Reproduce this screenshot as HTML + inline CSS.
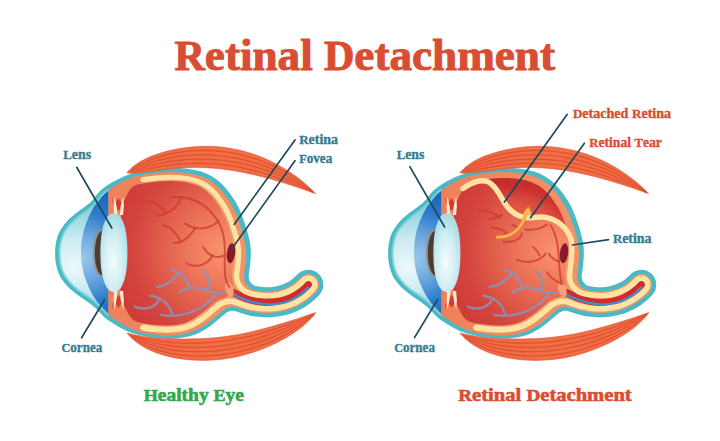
<!DOCTYPE html>
<html><head><meta charset="utf-8"><title>Retinal Detachment</title>
<style>html,body{margin:0;padding:0;background:#fff}body{width:720px;height:441px;overflow:hidden;font-family:"Liberation Serif",serif}svg{display:block;position:absolute;left:0;top:0}</style>
</head><body>
<svg width="720" height="441" viewBox="0 0 720 441">
<defs>
<radialGradient id="gint" gradientUnits="userSpaceOnUse" cx="222" cy="250" r="108">
<stop offset="0" stop-color="#fa936f"/><stop offset="0.25" stop-color="#f07d5f"/><stop offset="0.59" stop-color="#e05c4a"/><stop offset="0.73" stop-color="#d84d42"/><stop offset="0.85" stop-color="#d3433c"/><stop offset="1" stop-color="#cf3d39"/></radialGradient>
<radialGradient id="gsub" gradientUnits="userSpaceOnUse" cx="180" cy="256" r="80">
<stop offset="0.45" stop-color="#e4664e"/><stop offset="0.7" stop-color="#db4b3f"/><stop offset="0.86" stop-color="#cb3030"/><stop offset="1" stop-color="#c3272a"/></radialGradient>
<linearGradient id="gwall" gradientUnits="userSpaceOnUse" x1="108" y1="0" x2="255" y2="0">
<stop offset="0" stop-color="#ee7f5a"/><stop offset="0.2" stop-color="#f0845c"/><stop offset="1" stop-color="#f39468"/></linearGradient>
<radialGradient id="gaq" gradientUnits="userSpaceOnUse" cx="76" cy="262" r="60" fx="74" fy="268">
<stop offset="0" stop-color="#eef9fb"/><stop offset="0.45" stop-color="#c9ebf1"/><stop offset="1" stop-color="#7fcdd8"/></radialGradient>
<radialGradient id="giris" gradientUnits="userSpaceOnUse" cx="83" cy="258" r="72">
<stop offset="0" stop-color="#9ac6ea"/><stop offset="0.3" stop-color="#6faade"/><stop offset="0.62" stop-color="#2f7fcd"/><stop offset="1" stop-color="#1460b4"/></radialGradient>
<radialGradient id="glens" gradientUnits="userSpaceOnUse" cx="113" cy="262" r="46" gradientTransform="translate(113 262) scale(0.36 1) translate(-113 -262)">
<stop offset="0" stop-color="#f4fbfc"/><stop offset="0.55" stop-color="#d3eff3"/><stop offset="1" stop-color="#a9dde6"/></radialGradient>
<linearGradient id="gtm" gradientUnits="userSpaceOnUse" x1="120" y1="180" x2="316" y2="190">
<stop offset="0" stop-color="#ea5c3a"/><stop offset="0.5" stop-color="#f06a40"/><stop offset="1" stop-color="#ec613c"/></linearGradient>
<linearGradient id="gbm" gradientUnits="userSpaceOnUse" x1="110" y1="320" x2="316" y2="318">
<stop offset="0" stop-color="#ea5c3a"/><stop offset="0.5" stop-color="#f06a40"/><stop offset="1" stop-color="#ec613c"/></linearGradient>
</defs>
<rect width="720" height="441" fill="#fff"/>
<g font-family="'Liberation Serif', serif" font-weight="bold">
<text x="174.5" y="70" xml:space="preserve" font-size="41.3" fill="#d94e33" stroke="#d94e33" stroke-width="1.0" stroke-linejoin="round" textLength="380.5" lengthAdjust="spacingAndGlyphs"><tspan font-size="41.30">R</tspan><tspan font-size="44.40">etinal </tspan><tspan font-size="41.30">D</tspan><tspan font-size="44.40">etachment</tspan></text>
<g id="eyeL"><path d="M97.7,193.4 L93.2,199.4 L89.7,202.9 L85.9,206.0 L75.3,213.7 L69.0,219.1 L64.6,224.0 L60.8,229.4 L58.9,233.0 L57.4,236.8 L56.4,240.7 L55.5,245.5 L55.1,250.4 L55.1,255.4 L55.4,260.4 L56.2,265.3 L57.9,271.6 L60.6,277.4 L64.3,282.8 L69.3,288.2 L76.3,294.1 L87.8,301.9 L92.2,305.2 L95.9,308.6 L103.3,316.3 L107.1,319.6 L118.1,326.6 L126.2,330.8 L132.3,333.1 L139.3,335.1 L146.6,336.5 L154.7,337.6 L163.7,338.3 L171.9,338.5 L179.3,338.1 L185.8,337.1 L190.7,335.9 L195.4,334.4 L199.8,332.4 L204.1,330.1 L208.9,327.0 L213.5,323.6 L226.6,312.6 L228.3,311.7 L230.2,311.0 L232.1,310.8 L234.7,311.1 L243.9,314.1 L251.6,315.9 L258.2,316.8 L264.1,317.2 L271.1,317.2 L277.9,316.5 L284.7,315.2 L291.2,313.4 L296.1,311.5 L300.7,309.3 L305.2,306.8 L309.3,304.0 L313.6,300.6 L317.4,296.9 L320.2,293.8 L322.1,290.7 L323.0,287.6 L323.3,284.0 L322.6,280.2 L321.3,277.2 L319.2,274.3 L316.1,271.9 L313.2,270.5 L309.7,269.7 L305.8,269.9 L301.7,271.2 L298.7,273.2 L293.7,278.0 L289.2,281.4 L283.8,284.1 L277.8,286.0 L274.2,286.7 L270.1,287.2 L266.3,287.3 L262.0,287.1 L255.5,286.0 L253.1,284.9 L251.6,283.6 L250.3,282.1 L249.4,280.4 L248.8,278.5 L248.6,276.6 L250.0,265.9 L250.8,256.1 L250.8,249.5 L250.2,243.8 L249.1,238.2 L247.2,231.1 L243.9,220.9 L241.1,213.2 L238.1,206.5 L234.9,200.8 L229.8,193.3 L225.1,187.5 L221.1,183.2 L216.7,179.5 L212.1,176.4 L207.0,173.8 L201.0,171.5 L194.5,169.9 L187.2,168.7 L179.7,168.1 L171.5,168.0 L162.6,168.4 L152.8,169.3 L143.9,170.7 L137.5,172.0 L131.1,173.8 L125.0,176.0 L119.0,178.7 L111.7,182.5 L105.5,186.4 L101.0,189.9 L97.7,193.4Z" fill="#49b9c5"/>
<path d="M100.2,195.7 L96.2,201.1 L93.1,204.4 L89.2,207.8 L78.6,215.4 L73.7,219.4 L68.8,224.3 L64.9,229.2 L63.0,232.4 L61.7,235.0 L60.7,237.9 L59.7,241.5 L58.6,249.0 L58.6,257.7 L59.5,264.6 L61.4,271.1 L63.9,276.4 L67.9,281.8 L71.6,285.8 L76.4,289.9 L80.9,293.2 L90.5,299.6 L95.0,303.2 L98.3,306.2 L105.2,313.4 L108.6,316.5 L108.6,188.4 L103.8,192.0 L100.2,195.7Z" fill="#7fd0d9"/>
<path d="M101.7,196.8 L97.6,202.3 L94.4,205.8 L90.3,209.3 L80.4,216.5 L75.5,220.4 L70.7,225.0 L66.9,229.6 L63.8,235.1 L61.7,241.2 L60.6,248.4 L60.4,256.8 L61.2,263.5 L62.9,269.8 L65.2,274.8 L68.9,280.0 L72.9,284.4 L77.6,288.4 L82.0,291.6 L91.6,298.1 L96.3,301.7 L108.6,314.0 L108.6,190.7 L104.5,193.9 L101.7,196.8Z" fill="url(#gaq)"/>
<path d="M101.6,197.0 L97.7,202.3 L95.0,205.2 L93.1,208.3 L89.2,215.7 L86.0,223.4 L83.5,231.3 L81.9,239.5 L81.1,247.8 L81.1,256.2 L81.9,264.5 L83.5,272.7 L86.0,280.6 L89.2,288.3 L93.1,295.7 L97.7,302.6 L98.8,304.0 L108.6,314.0 L108.6,190.7 L104.5,193.9 L101.6,197.0Z" fill="url(#giris)"/>
<ellipse cx="101.0" cy="253" rx="8.0" ry="23.2" fill="#9a9088"/>
<ellipse cx="102.4" cy="253" rx="7.6" ry="22.2" fill="#4b3c34"/>
<path d="M108.3,314.5 L111.8,317.3 L122.2,324.2 L129.1,327.9 L132.5,329.3 L136.0,330.4 L136.0,331.4 L136.6,331.6 L147.5,333.8 L160.2,335.1 L171.4,335.5 L176.9,335.1 L181.5,334.6 L186.9,333.5 L191.4,332.1 L195.7,330.4 L200.4,328.0 L205.6,324.7 L210.7,320.9 L217.0,315.7 L224.5,309.2 L226.9,307.8 L229.6,306.9 L232.4,306.6 L235.2,306.8 L244.3,309.6 L250.6,311.2 L257.9,312.4 L265.1,312.9 L271.7,312.7 L279.0,311.9 L285.5,310.5 L291.7,308.5 L297.7,305.9 L302.8,303.1 L308.2,299.3 L312.7,295.4 L316.3,291.7 L317.9,289.3 L318.8,286.4 L318.8,283.0 L318.3,280.9 L317.5,279.3 L316.2,277.6 L315.1,276.5 L313.4,275.3 L311.4,274.5 L309.6,274.1 L307.5,274.1 L304.8,274.7 L302.4,275.9 L295.8,282.1 L290.4,285.8 L284.9,288.4 L279.3,290.2 L275.5,291.0 L271.6,291.5 L263.6,291.6 L258.8,291.1 L254.6,290.3 L252.8,289.7 L250.4,288.4 L248.2,286.7 L245.9,283.8 L244.7,281.2 L244.1,278.6 L244.0,274.8 L245.0,267.7 L245.8,259.7 L246.0,250.9 L245.7,247.1 L245.0,242.5 L242.3,231.9 L237.4,217.3 L235.3,212.2 L233.3,208.0 L230.6,203.3 L227.1,197.9 L223.8,193.4 L220.2,189.2 L214.5,183.8 L211.5,181.5 L208.3,179.6 L205.0,177.9 L200.9,176.2 L192.5,173.9 L183.2,172.5 L171.9,172.1 L160.0,172.6 L146.5,174.2 L136.1,176.1 L132.5,177.2 L129.1,178.5 L125.6,180.0 L118.7,183.6 L111.8,187.8 L108.3,190.2 L108.3,314.5Z" fill="url(#gwall)"/>
<path d="M141.6,324.3 L153.5,326.0 L161.1,326.6 L167.0,326.8 L176.3,326.2 L180.9,325.5 L184.9,324.5 L191.5,321.9 L198.4,317.8 L205.5,312.5 L216.2,303.3 L218.5,301.7 L220.8,300.4 L223.4,299.4 L227.4,298.6 L230.1,298.4 L234.1,298.9 L247.8,303.4 L253.5,304.7 L259.4,305.6 L265.3,306.0 L271.1,305.9 L277.0,305.2 L281.9,304.3 L287.6,302.7 L292.3,300.8 L296.9,298.5 L301.2,295.9 L306.1,292.1 L311.0,287.3 L311.9,285.8 L311.9,283.9 L311.4,282.5 L310.1,281.4 L308.7,281.0 L307.1,281.2 L305.8,281.9 L302.5,285.4 L299.3,288.1 L296.0,290.4 L292.5,292.5 L288.6,294.4 L284.5,295.9 L280.2,297.1 L275.8,297.9 L267.7,298.6 L259.4,298.1 L254.3,297.4 L249.7,296.3 L246.9,295.3 L244.4,294.1 L241.1,291.7 L238.3,288.8 L236.7,286.5 L235.5,284.1 L234.3,280.1 L233.9,277.4 L233.8,274.7 L235.5,260.1 L235.9,254.1 L235.8,249.4 L235.3,245.0 L234.3,240.3 L230.6,227.7 L227.0,217.7 L223.5,210.1 L218.0,201.6 L212.1,194.1 L206.9,189.2 L204.1,187.2 L201.3,185.6 L198.0,184.1 L194.3,182.8 L186.3,180.9 L176.8,179.9 L166.3,179.8 L154.1,180.7 L141.6,182.5 L141.6,324.3Z" fill="#f39a6c"/>
<path d="M130.4,317.1 L133.3,320.0 L136.8,322.0 L141.9,323.1 L148.5,324.2 L158.9,325.2 L167.7,325.5 L175.3,325.0 L181.9,323.8 L185.6,322.7 L189.0,321.3 L192.4,319.6 L195.8,317.6 L204.0,311.5 L215.9,301.4 L219.5,299.4 L225.8,297.2 L227.9,296.0 L229.8,294.4 L232.0,291.4 L232.9,289.1 L233.3,286.6 L233.3,284.2 L232.1,278.3 L231.9,274.5 L233.4,261.6 L233.9,251.4 L233.6,247.7 L233.1,244.0 L230.8,234.9 L227.7,225.1 L225.1,218.1 L222.5,212.4 L219.5,207.1 L214.6,200.0 L209.9,194.5 L205.4,190.3 L200.6,187.1 L196.8,185.3 L192.5,183.9 L188.0,182.7 L182.5,181.8 L176.8,181.3 L170.8,181.1 L164.1,181.2 L157.4,181.6 L143.8,183.3 L137.7,184.5 L135.3,185.3 L133.2,186.5 L131.3,188.0 L129.7,190.0 L127.7,193.3 L125.4,198.4 L123.2,204.8 L121.7,211.4 L120.6,219.4 L120.0,231.2 L120.2,251.7 L119.8,279.2 L120.2,285.9 L120.7,290.9 L121.5,295.8 L122.7,300.7 L124.3,305.4 L125.8,308.9 L127.9,313.1 L130.4,317.1Z" fill="url(#gint)"/>
<path d="M112,197 L114.5,214 L118.5,209 L122.5,214 L126.5,197 L122,204 L118.5,198 L115,204 Z" fill="#d63a2a"/>
<path d="M114.2,215 Q112.7,206 114.1,196.5 Q117.3,206 117.60000000000001,215 Z" fill="#fdead0"/>
<path d="M119.69999999999999,215 Q120.0,206 123.2,196.5 Q124.6,206 123.1,215 Z" fill="#fdead0"/>
<path d="M112,309 L114.5,292 L118.5,297 L122.5,292 L126.5,309 L122,302 L118.5,308 L115,302 Z" fill="#d63a2a"/>
<path d="M114.2,291 Q112.7,300 114.1,309.5 Q117.3,300 117.60000000000001,291 Z" fill="#fdead0"/>
<path d="M119.69999999999999,291 Q120.0,300 123.2,309.5 Q124.6,300 123.1,291 Z" fill="#fdead0"/>
<path d="M127.4,252.6 L127.4,255.5 L127.3,257.9 L127.3,260.2 L127.1,262.3 L127.0,264.4 L126.8,266.4 L126.6,268.4 L126.4,270.3 L126.1,272.1 L125.8,273.8 L125.4,275.5 L125.1,277.1 L124.7,278.6 L124.3,280.1 L123.8,281.5 L123.3,282.8 L122.8,284.0 L122.3,285.2 L121.8,286.2 L121.2,287.2 L120.6,288.1 L120.0,288.9 L119.3,289.6 L118.7,290.2 L118.0,290.7 L117.2,291.1 L116.5,291.5 L115.7,291.7 L114.9,291.9 L113.9,291.9 L112.9,291.9 L112.1,291.7 L111.3,291.5 L110.6,291.1 L109.8,290.7 L109.1,290.2 L108.5,289.6 L107.8,288.9 L107.2,288.1 L106.6,287.2 L106.0,286.2 L105.5,285.2 L105.0,284.0 L104.5,282.8 L104.0,281.5 L103.5,280.1 L103.1,278.6 L102.7,277.1 L102.4,275.5 L102.0,273.8 L101.7,272.1 L101.4,270.3 L101.2,268.4 L101.0,266.4 L100.8,264.4 L100.7,262.3 L100.5,260.2 L100.5,257.9 L100.4,255.5 L100.4,252.6 L100.4,249.7 L100.5,247.3 L100.5,245.0 L100.7,242.9 L100.8,240.8 L101.0,238.8 L101.2,236.8 L101.4,234.9 L101.7,233.1 L102.0,231.4 L102.4,229.7 L102.7,228.1 L103.1,226.6 L103.5,225.1 L104.0,223.7 L104.5,222.4 L105.0,221.2 L105.5,220.0 L106.0,219.0 L106.6,218.0 L107.2,217.1 L107.8,216.3 L108.5,215.6 L109.1,215.0 L109.8,214.5 L110.6,214.1 L111.3,213.7 L112.1,213.5 L112.9,213.3 L113.9,213.3 L114.9,213.3 L115.7,213.5 L116.5,213.7 L117.2,214.1 L118.0,214.5 L118.7,215.0 L119.3,215.6 L120.0,216.3 L120.6,217.1 L121.2,218.0 L121.8,219.0 L122.3,220.0 L122.8,221.2 L123.3,222.4 L123.8,223.7 L124.3,225.1 L124.7,226.6 L125.1,228.1 L125.4,229.7 L125.8,231.4 L126.1,233.1 L126.4,234.9 L126.6,236.8 L126.8,238.8 L127.0,240.8 L127.1,242.9 L127.3,245.0 L127.3,247.3 L127.4,249.7 L127.4,252.6Z" fill="url(#glens)"/>
<ellipse cx="229.5" cy="289.5" rx="4.2" ry="7.5" transform="rotate(-18 229.5 289.5)" fill="#f6a276"/>
<path d="M230.7,295.2 L238.1,299.0 L244.1,301.4 L250.4,303.4 L255.9,304.7 L262.4,305.7 L267.9,306.1 L273.4,306.0 L278.8,305.4 L284.3,304.2 L289.5,302.5 L294.6,300.2 L299.4,297.3 L304.8,293.2 L309.8,288.5 L311.9,285.8 L312.2,284.8 L312.1,283.7 L311.4,282.1 L310.3,281.1 L308.6,280.6 L307.2,280.9 L306.0,281.7 L303.0,284.9 L299.3,288.2 L296.2,290.6 L292.9,292.6 L288.6,294.8 L285.1,296.2 L281.4,297.3 L277.7,298.0 L272.9,298.6 L267.1,298.6 L262.2,298.2 L256.3,297.2 L251.4,296.0 L245.7,294.1 L240.1,291.8 L234.5,289.0 L233.0,288.7 L231.6,289.0 L230.4,289.8 L229.6,291.0 L229.4,292.0 L229.5,293.5 L230.0,294.4 L230.7,295.2Z" fill="#d12b2b"/>
<path d="M233.5,294.4 L234.4,294.9 L235.4,295.4 L236.3,295.8 L237.2,296.3 L238.1,296.7 L239.1,297.2 L240.0,297.6 L241.0,298.0 L242.0,298.4 L242.9,298.8 L243.9,299.2 L244.9,299.6 L245.9,299.9 L246.9,300.3 L247.9,300.6 L248.9,300.9 L249.9,301.2 L250.9,301.5 L251.9,301.8 L253.0,302.1 L254.0,302.4 L255.0,302.6 L256.0,302.8 L257.1,303.0 L258.1,303.2 L259.1,303.4 L260.2,303.6 L261.2,303.7 L262.3,303.9 L263.3,304.0 L264.3,304.1 L265.4,304.2 L266.4,304.3 L267.5,304.3 L268.5,304.4 L269.5,304.4 L270.6,304.4 L271.6,304.4 L272.6,304.3 L273.7,304.3 L274.7,304.2 L275.7,304.1 L276.8,304.0 L277.8,303.8 L278.8,303.7 L279.8,303.5 L280.8,303.3 L281.8,303.1 L282.8,302.9 L283.8,302.6 L284.8,302.3 L285.8,302.0 L286.8,301.7 L287.7,301.4 L288.7,301.0 L289.7,300.6 L290.6,300.2 L291.6,299.8 L292.5,299.3 L293.4,298.9 L294.3,298.4 L295.2,297.9 L296.1,297.3 L297.0,296.8 L297.9,296.2 L298.8,295.6 L299.6,295.0 L300.5,294.4 L301.3,293.7 L302.2,293.1 L303.0,292.4 L303.8,291.7 L304.6,291.0 L305.3,290.3 L306.1,289.5 L306.8,288.7 L307.6,288.0 L308.0,287.5" fill="none" stroke="#3f8fcf" stroke-width="2.3" stroke-linecap="round"/>
<path d="M142.7,177.1 L141.8,177.3 L141.0,178.0 L140.4,179.6 L140.6,180.6 L141.2,181.5 L142.0,182.0 L143.0,182.2 L157.2,180.4 L170.0,179.8 L176.0,179.9 L181.9,180.3 L186.9,181.1 L191.7,182.1 L198.0,184.1 L203.6,186.9 L208.3,190.4 L213.1,195.3 L216.3,199.2 L219.3,203.4 L222.1,207.7 L224.4,211.9 L228.1,220.4 L232.3,233.0 L234.8,242.3 L235.5,246.3 L235.8,250.2 L235.8,254.9 L235.5,260.9 L233.8,274.7 L233.9,277.4 L234.3,280.1 L235.5,284.1 L237.5,287.7 L240.1,290.8 L243.3,293.4 L245.7,294.8 L248.2,295.8 L252.6,297.0 L257.4,297.9 L266.2,298.6 L274.6,298.1 L279.5,297.2 L283.8,296.1 L288.2,294.5 L292.2,292.7 L295.7,290.6 L299.0,288.3 L302.5,285.4 L305.8,281.9 L307.1,281.2 L308.7,281.0 L310.5,281.7 L311.6,283.0 L312.0,284.6 L311.6,286.4 L309.8,288.5 L306.0,292.2 L301.2,295.9 L296.9,298.5 L293.1,300.5 L288.4,302.4 L283.6,303.9 L277.8,305.1 L272.0,305.8 L266.1,306.0 L260.2,305.7 L254.4,304.9 L248.6,303.6 L243.7,302.2 L236.7,299.6 L234.1,298.9 L230.1,298.4 L226.0,298.8 L222.1,299.9 L218.5,301.7 L216.2,303.3 L206.2,312.0 L199.6,317.0 L193.3,321.0 L187.4,323.6 L183.5,324.9 L178.9,325.9 L174.3,326.5 L169.2,326.8 L163.4,326.7 L155.8,326.2 L149.0,325.5 L143.0,324.6 L141.1,325.4 L140.2,326.8 L140.1,327.9 L140.3,328.7 L141.4,330.1 L143.0,330.7 L152.0,331.9 L159.8,332.6 L166.9,332.8 L172.2,332.6 L176.8,332.2 L181.9,331.4 L186.2,330.3 L192.5,327.9 L198.8,324.5 L203.2,321.5 L208.2,317.7 L220.7,307.1 L224.2,305.2 L228.1,304.2 L231.1,304.1 L233.1,304.4 L241.2,307.3 L246.4,308.9 L252.6,310.3 L258.9,311.2 L265.3,311.6 L271.5,311.4 L277.1,310.9 L283.2,309.7 L287.8,308.5 L292.9,306.7 L297.2,304.7 L301.3,302.5 L305.9,299.4 L309.7,296.4 L313.3,293.0 L316.1,289.7 L317.2,287.5 L317.6,285.1 L317.4,282.7 L316.6,280.3 L315.2,278.4 L313.3,276.8 L311.1,275.8 L308.7,275.4 L305.8,275.7 L303.5,276.7 L302.0,277.8 L298.9,281.0 L296.1,283.5 L293.3,285.5 L289.9,287.5 L284.2,290.1 L277.9,291.9 L273.9,292.5 L269.7,292.9 L265.6,293.0 L260.9,292.7 L256.1,292.0 L251.1,290.9 L248.9,290.1 L246.2,288.7 L243.9,286.8 L241.4,283.6 L240.1,280.9 L239.4,277.9 L239.3,273.9 L240.3,267.4 L241.0,258.6 L241.2,250.3 L240.8,246.0 L240.0,241.6 L237.1,231.0 L232.8,218.2 L230.8,213.2 L228.8,209.1 L225.8,204.0 L222.3,198.8 L219.1,194.4 L215.6,190.4 L212.4,187.3 L209.7,185.0 L206.8,183.0 L203.8,181.2 L200.4,179.7 L196.4,178.2 L188.3,176.2 L178.4,174.9 L167.4,174.7 L155.7,175.4 L142.7,177.1Z" fill="#fde4a3"/>
<ellipse cx="230" cy="290" rx="3.4" ry="6.5" transform="rotate(-18 230 290)" fill="#f6a276"/>
<path d="M171.7,197.2 L174.8,197.0 L178.0,197.0 L181.2,197.2 L184.3,197.6 L187.4,198.2 L190.4,199.0 L193.4,200.0 L196.3,201.3 L199.1,202.7 L201.8,204.3 L204.4,206.1 L206.8,208.0 L209.1,210.2 L211.4,212.5 L213.5,214.9 L215.4,217.4 L217.3,220.1 L218.9,222.8 L220.3,225.6 L221.5,228.5 L222.4,231.5 L223.2,234.5 L223.8,237.5 L224.2,240.6 L224.5,243.7 L224.7,246.9 L224.8,250.1 L224.8,253.2 L224.8,256.4 L224.7,259.6 L224.7,262.8 L224.7,266.0 L224.8,269.1 L224.9,272.3 L225.1,275.3 L225.6,278.4 L226.4,281.3 L227.7,284.2 L229.4,287.0" fill="none" stroke="#cc3a30" stroke-width="1.9" stroke-linecap="round" opacity="0.78"/>
<path d="M146.3,200.8 L146.9,200.8 L147.6,200.9 L148.2,201.0 L148.8,201.1 L149.4,201.2 L150.0,201.3 L150.6,201.5 L151.2,201.7 L151.7,201.8 L152.3,202.0 L152.9,202.3 L153.4,202.5 L154.0,202.8 L154.5,203.0 L155.0,203.3 L155.6,203.6 L156.1,203.9 L156.6,204.2 L157.1,204.6 L157.6,204.9 L158.1,205.3 L158.6,205.6 L159.1,206.0 L159.6,206.4 L160.1,206.7 L160.5,207.1 L161.0,207.5 L161.5,207.9 L161.9,208.4 L162.4,208.8 L162.8,209.2 L163.3,209.6 L163.7,210.0 L164.2,210.5 L164.6,210.9 L165.0,211.3 L165.4,211.8 L165.9,212.2 L166.3,212.6" fill="none" stroke="#cc3a30" stroke-width="1.9" stroke-linecap="round" opacity="0.78"/>
<path d="M158.0,215.6 L158.8,215.5 L159.5,215.3 L160.3,215.2 L161.0,215.0 L161.8,214.8 L162.5,214.6 L163.2,214.4 L164.0,214.1 L164.7,213.9 L165.4,213.6 L166.1,213.3 L166.9,213.0 L167.6,212.6 L168.3,212.3 L169.0,211.9 L169.6,211.5 L170.3,211.1 L171.0,210.7 L171.6,210.2 L172.2,209.7 L172.9,209.3 L173.5,208.8 L174.1,208.3 L174.6,207.7 L175.2,207.2 L175.7,206.6 L176.3,206.1 L176.8,205.5 L177.3,204.9 L177.7,204.2 L178.2,203.6 L178.6,203.0 L179.0,202.3 L179.3,201.6 L179.7,200.9 L180.0,200.2 L180.3,199.5 L180.6,198.8 L180.8,198.0" fill="none" stroke="#cc3a30" stroke-width="1.9" stroke-linecap="round" opacity="0.78"/>
<path d="M162.5,225.0 L163.2,225.1 L163.8,225.3 L164.4,225.5 L165.1,225.7 L165.7,225.9 L166.3,226.2 L166.9,226.4 L167.5,226.7 L168.0,227.0 L168.6,227.4 L169.1,227.7 L169.7,228.1 L170.2,228.4 L170.7,228.8 L171.2,229.2 L171.8,229.7 L172.2,230.1 L172.7,230.5 L173.2,231.0 L173.7,231.5 L174.1,232.0 L174.6,232.5 L175.0,233.0 L175.4,233.5 L175.9,234.0 L176.3,234.5 L176.7,235.0 L177.1,235.6 L177.4,236.1 L177.8,236.7 L178.2,237.2 L178.5,237.8 L178.9,238.3 L179.2,238.9 L179.6,239.4 L179.9,240.0 L180.2,240.6 L180.5,241.1 L180.8,241.7" fill="none" stroke="#cc3a30" stroke-width="1.9" stroke-linecap="round" opacity="0.78"/>
<path d="M173.2,242.6 L174.0,242.7 L174.8,242.8 L175.6,242.8 L176.3,242.8 L177.0,242.7 L177.8,242.6 L178.5,242.5 L179.2,242.3 L179.9,242.1 L180.5,241.9 L181.2,241.6 L181.9,241.3 L182.5,241.0 L183.1,240.7 L183.8,240.3 L184.4,239.9 L185.0,239.5 L185.6,239.1 L186.2,238.6 L186.7,238.2 L187.3,237.7 L187.8,237.2 L188.4,236.7 L188.9,236.1 L189.4,235.6 L189.9,235.0 L190.4,234.5 L190.9,233.9 L191.4,233.3 L191.9,232.7 L192.3,232.2 L192.8,231.6 L193.2,231.0 L193.7,230.4 L194.1,229.8 L194.5,229.2 L194.9,228.7 L195.3,228.1 L195.7,227.5" fill="none" stroke="#cc3a30" stroke-width="1.9" stroke-linecap="round" opacity="0.78"/>
<path d="M185.0,223.3 L185.8,223.9 L186.5,224.4 L187.3,224.9 L188.1,225.4 L189.0,225.8 L189.8,226.2 L190.7,226.6 L191.5,226.9 L192.4,227.2 L193.3,227.5 L194.2,227.7 L195.1,227.9 L196.1,228.1 L197.0,228.2 L197.9,228.3 L198.9,228.4 L199.8,228.4 L200.7,228.4 L201.7,228.4 L202.6,228.3 L203.5,228.2 L204.5,228.1 L205.4,227.9 L206.3,227.7 L207.2,227.5 L208.1,227.2 L209.0,226.9 L209.9,226.6 L210.7,226.2 L211.6,225.8 L212.4,225.4 L213.2,225.0 L214.0,224.5 L214.8,223.9 L215.5,223.4 L216.3,222.8 L217.0,222.2 L217.7,221.5 L218.3,220.8" fill="none" stroke="#cc3a30" stroke-width="1.9" stroke-linecap="round" opacity="0.78"/>
<path d="M203.3,246.7 L203.6,247.3 L203.8,247.8 L204.1,248.4 L204.5,248.9 L204.8,249.4 L205.2,249.9 L205.5,250.5 L205.9,250.9 L206.3,251.4 L206.8,251.9 L207.2,252.3 L207.7,252.8 L208.1,253.2 L208.6,253.6 L209.1,253.9 L209.6,254.3 L210.2,254.6 L210.7,254.9 L211.3,255.2 L211.8,255.5 L212.4,255.8 L213.0,256.0 L213.5,256.2 L214.1,256.4 L214.7,256.5 L215.3,256.7 L215.9,256.8 L216.5,256.9 L217.1,256.9 L217.8,256.9 L218.4,256.9 L219.0,256.9 L219.6,256.8 L220.2,256.7 L220.9,256.6 L221.5,256.4 L222.1,256.3 L222.7,256.0 L223.3,255.8" fill="none" stroke="#cc3a30" stroke-width="1.9" stroke-linecap="round" opacity="0.78"/>
<path d="M186.7,263.3 L187.4,263.7 L188.1,264.0 L188.8,264.4 L189.5,264.7 L190.3,264.9 L191.0,265.1 L191.8,265.3 L192.5,265.5 L193.3,265.6 L194.1,265.7 L194.9,265.7 L195.7,265.7 L196.5,265.7 L197.2,265.7 L198.0,265.6 L198.8,265.5 L199.6,265.3 L200.3,265.1 L201.1,264.9 L201.9,264.7 L202.6,264.4 L203.3,264.1 L204.0,263.8 L204.7,263.5 L205.4,263.1 L206.1,262.7 L206.7,262.2 L207.4,261.8 L208.0,261.3 L208.6,260.8 L209.1,260.2 L209.7,259.7 L210.2,259.1 L210.6,258.4 L211.1,257.8 L211.5,257.1 L211.9,256.5 L212.2,255.7 L212.5,255.0" fill="none" stroke="#cc3a30" stroke-width="1.9" stroke-linecap="round" opacity="0.78"/>
<path d="M223.8,292.3 L222.6,292.7 L221.4,292.9 L220.3,293.1 L219.1,293.2 L218.0,293.2 L216.8,293.1 L215.7,292.9 L214.5,292.7 L213.4,292.4 L212.3,292.1 L211.1,291.8 L210.0,291.4 L208.9,291.0 L207.7,290.6 L206.6,290.2 L205.5,289.8 L204.3,289.4 L203.2,289.1 L202.0,288.7 L200.9,288.5 L199.7,288.2 L198.6,288.0 L197.4,287.9 L196.3,287.7 L195.1,287.7 L194.0,287.7 L192.8,287.7 L191.6,287.8 L190.5,287.9 L189.3,288.1 L188.2,288.4 L187.1,288.7 L185.9,289.0 L184.8,289.4 L183.7,289.9 L182.6,290.4 L181.5,291.0 L180.4,291.7 L179.4,292.4" fill="none" stroke="#8b92ba" stroke-width="2.2" stroke-linecap="round" opacity="0.92"/>
<path d="M203.0,270.5 L203.4,270.8 L203.8,271.2 L204.1,271.6 L204.5,272.1 L204.9,272.5 L205.3,273.0 L205.6,273.5 L206.0,274.0 L206.3,274.6 L206.7,275.1 L207.0,275.7 L207.3,276.2 L207.6,276.8 L207.9,277.4 L208.2,278.0 L208.4,278.6 L208.7,279.2 L208.9,279.8 L209.0,280.4 L209.2,281.0 L209.3,281.6 L209.4,282.2 L209.5,282.8 L209.5,283.3 L209.5,283.9 L209.4,284.5 L209.4,285.0 L209.2,285.6 L209.1,286.1 L208.9,286.6 L208.6,287.1 L208.3,287.6 L208.0,288.1 L207.6,288.5 L207.1,289.0 L206.6,289.4 L206.0,289.7 L205.4,290.1 L204.7,290.4" fill="none" stroke="#8b92ba" stroke-width="2.2" stroke-linecap="round" opacity="0.92"/>
<path d="M171.2,270.4 L171.9,270.4 L172.6,270.5 L173.3,270.6 L174.0,270.8 L174.6,271.0 L175.3,271.2 L175.9,271.4 L176.6,271.7 L177.2,272.0 L177.9,272.3 L178.5,272.6 L179.1,273.0 L179.7,273.4 L180.2,273.8 L180.8,274.2 L181.4,274.6 L181.9,275.1 L182.4,275.6 L182.9,276.1 L183.4,276.6 L183.9,277.1 L184.3,277.7 L184.8,278.2 L185.2,278.8 L185.6,279.4 L186.0,280.0 L186.3,280.6 L186.7,281.2 L187.0,281.8 L187.3,282.5 L187.5,283.1 L187.8,283.8 L188.0,284.4 L188.2,285.1 L188.3,285.8 L188.5,286.4 L188.6,287.1 L188.7,287.8 L188.7,288.4" fill="none" stroke="#8b92ba" stroke-width="2.2" stroke-linecap="round" opacity="0.92"/>
<path d="M156.7,286.7 L157.4,286.6 L158.1,286.6 L158.8,286.5 L159.5,286.4 L160.2,286.3 L160.9,286.1 L161.6,286.0 L162.3,285.8 L162.9,285.6 L163.6,285.3 L164.2,285.1 L164.9,284.8 L165.5,284.5 L166.1,284.2 L166.7,283.9 L167.3,283.6 L167.9,283.2 L168.5,282.8 L169.1,282.5 L169.7,282.1 L170.2,281.7 L170.8,281.3 L171.3,280.8 L171.9,280.4 L172.4,279.9 L172.9,279.5 L173.5,279.0 L174.0,278.6 L174.5,278.1 L175.0,277.6 L175.5,277.1 L176.0,276.6 L176.5,276.1 L177.0,275.6 L177.5,275.1 L177.9,274.6 L178.4,274.1 L178.9,273.6 L179.3,273.1" fill="none" stroke="#8b92ba" stroke-width="2.2" stroke-linecap="round" opacity="0.92"/>
<path d="M150.4,295.9 L151.2,295.9 L151.9,296.0 L152.7,296.1 L153.5,296.3 L154.2,296.5 L155.0,296.7 L155.7,296.9 L156.4,297.1 L157.2,297.4 L157.9,297.7 L158.6,298.0 L159.3,298.3 L160.0,298.7 L160.7,299.0 L161.3,299.4 L162.0,299.8 L162.6,300.3 L163.2,300.7 L163.8,301.2 L164.4,301.7 L165.0,302.2 L165.6,302.7 L166.1,303.2 L166.6,303.8 L167.1,304.4 L167.6,305.0 L168.1,305.6 L168.6,306.2 L169.0,306.8 L169.4,307.5 L169.8,308.2 L170.2,308.8 L170.5,309.5 L170.8,310.2 L171.1,310.9 L171.4,311.7 L171.7,312.4 L171.9,313.2 L172.1,313.9" fill="none" stroke="#8b92ba" stroke-width="2.2" stroke-linecap="round" opacity="0.92"/>
<path d="M135.0,306.7 L135.6,306.9 L136.3,307.2 L136.9,307.4 L137.6,307.6 L138.2,307.8 L138.9,307.9 L139.6,308.1 L140.3,308.2 L140.9,308.3 L141.6,308.4 L142.3,308.4 L143.0,308.5 L143.7,308.5 L144.4,308.5 L145.1,308.4 L145.8,308.4 L146.5,308.3 L147.1,308.2 L147.8,308.1 L148.5,307.9 L149.1,307.8 L149.8,307.6 L150.4,307.3 L151.0,307.1 L151.7,306.8 L152.3,306.5 L152.9,306.2 L153.4,305.8 L154.0,305.5 L154.5,305.1 L155.1,304.6 L155.6,304.2 L156.1,303.7 L156.5,303.2 L157.0,302.7 L157.4,302.1 L157.8,301.5 L158.1,300.9 L158.5,300.3" fill="none" stroke="#8b92ba" stroke-width="2.2" stroke-linecap="round" opacity="0.92"/>
<path d="M161.3,314.9 L162.9,315.1 L164.4,315.3 L165.9,315.5 L167.5,315.6 L169.1,315.6 L170.6,315.6 L172.2,315.6 L173.8,315.6 L175.3,315.5 L176.9,315.3 L178.5,315.1 L180.0,314.9 L181.6,314.7 L183.1,314.4 L184.6,314.0 L186.2,313.6 L187.7,313.2 L189.2,312.7 L190.7,312.2 L192.2,311.7 L193.6,311.1 L195.1,310.5 L196.5,309.8 L197.9,309.1 L199.3,308.4 L200.6,307.6 L202.0,306.8 L203.3,305.9 L204.6,305.0 L205.8,304.1 L207.1,303.1 L208.2,302.1 L209.4,301.1 L210.5,300.0 L211.6,298.9 L212.7,297.7 L213.7,296.5 L214.7,295.3 L215.6,294.0" fill="none" stroke="#8b92ba" stroke-width="2.2" stroke-linecap="round" opacity="0.92"/>
<ellipse cx="231" cy="253.2" rx="4.1" ry="10.1" transform="rotate(7 231 253.2)" fill="#871a2d"/>
<path d="M126.8,172.8 L128.7,170.8 L130.6,168.9 L132.5,167.1 L134.6,165.5 L136.7,163.9 L138.9,162.5 L141.1,161.1 L143.4,159.9 L148.1,157.6 L152.9,155.6 L157.9,153.9 L165.5,151.6 L173.2,149.8 L181.0,148.3 L188.9,147.2 L194.2,146.7 L202.1,146.3 L210.0,146.3 L215.3,146.5 L223.2,147.2 L228.4,148.0 L236.2,149.4 L241.3,150.6 L248.9,152.7 L253.9,154.3 L261.3,157.0 L266.2,159.1 L273.4,162.4 L280.3,166.2 L284.9,168.9 L291.5,173.2 L295.8,176.2 L302.1,181.1 L306.1,184.5 L311.9,189.9 L315.7,193.7 L308.8,191.2 L299.6,188.1 L285.7,183.5 L274.0,180.0 L262.2,176.8 L250.4,173.9 L240.9,172.0 L233.7,170.7 L228.9,169.9 L219.2,168.7 L209.5,167.9 L202.2,167.5 L197.3,167.4 L192.4,167.5 L185.1,167.7 L180.3,168.0 L173.0,168.6 L165.7,169.5 L148.8,171.8 L139.1,172.8 L134.3,173.1 L131.9,173.2 L129.4,173.2 L126.8,172.8Z" fill="url(#gtm)" stroke="#dd4f33" stroke-width="0.5"/>
<path d="M131.1,168.4 L134.0,166.6 L136.8,164.9 L139.7,163.3 L142.7,161.7 L145.7,160.3 L148.8,158.9 L151.8,157.7 L155.0,156.5 L158.1,155.4 L161.3,154.4 L164.5,153.5 L167.7,152.6 L171.0,151.9 L174.3,151.2 L177.5,150.5 L180.9,150.0 L184.2,149.5 L187.5,149.1 L190.8,148.8 L194.2,148.5 L197.5,148.3 L200.8,148.2 L204.2,148.2 L207.5,148.2 L210.9,148.3 L214.2,148.5 L217.6,148.7 L220.9,149.0 L224.2,149.4 L227.5,149.9 L230.8,150.4 L234.1,151.0 L237.4,151.7 L240.7,152.4 L243.9,153.2 L247.1,154.1 L250.3,155.0 L253.5,156.0 L256.7,157.1 L259.8,158.3 L262.9,159.5 L266.0,160.7 L269.1,162.1 L272.1,163.5 L275.1,164.9 L278.1,166.5 L281.0,168.0 L283.9,169.7 L286.8,171.4 L289.7,173.2 L292.5,175.0 L295.2,176.9 L298.0,178.8 L300.6,180.8 L303.3,182.8 L305.9,185.0 L308.4,187.1 L311.0,189.3 L313.4,191.6" fill="none" stroke="#f7875a" stroke-width="1.5" stroke-opacity="0.3"/>
<path d="M131.4,169.6 L134.4,168.1 L137.4,166.6 L140.4,165.2 L143.4,164.0 L146.5,162.7 L149.6,161.6 L152.7,160.5 L155.8,159.5 L159.0,158.5 L162.1,157.7 L165.3,156.9 L168.5,156.1 L171.7,155.5 L174.9,154.9 L178.1,154.3 L181.4,153.9 L184.6,153.5 L187.9,153.1 L191.1,152.9 L194.4,152.7 L197.7,152.5 L201.0,152.5 L204.2,152.5 L207.5,152.5 L210.8,152.7 L214.0,152.9 L217.3,153.1 L220.6,153.4 L223.8,153.8 L227.1,154.2 L230.3,154.7 L233.6,155.3 L236.8,155.9 L240.0,156.6 L243.2,157.4 L246.4,158.2 L249.5,159.0 L252.7,159.9 L255.8,160.9 L258.9,162.0 L262.0,163.0 L265.1,164.2 L268.2,165.4 L271.2,166.7 L274.2,168.0 L277.2,169.3 L280.2,170.8 L283.1,172.3 L286.0,173.8 L288.9,175.4 L291.7,177.0 L294.5,178.7 L297.3,180.4 L300.0,182.2 L302.7,184.1 L305.4,186.0 L308.0,187.9 L310.6,189.9 L313.2,191.9" fill="none" stroke="#f7875a" stroke-width="1.5" stroke-opacity="0.3"/>
<path d="M131.9,170.9 L134.9,169.6 L137.9,168.4 L141.0,167.3 L144.0,166.2 L147.1,165.1 L150.2,164.2 L153.3,163.3 L156.4,162.4 L159.6,161.6 L162.7,160.9 L165.9,160.3 L169.0,159.7 L172.2,159.1 L175.4,158.6 L178.6,158.2 L181.8,157.8 L185.0,157.5 L188.2,157.2 L191.4,157.0 L194.6,156.9 L197.8,156.8 L201.1,156.8 L204.3,156.8 L207.5,156.9 L210.7,157.0 L213.9,157.2 L217.1,157.5 L220.3,157.8 L223.5,158.2 L226.7,158.6 L229.9,159.1 L233.1,159.6 L236.2,160.2 L239.4,160.8 L242.6,161.5 L245.7,162.2 L248.8,163.0 L251.9,163.8 L255.0,164.7 L258.1,165.7 L261.2,166.7 L264.3,167.7 L267.3,168.8 L270.3,169.9 L273.3,171.1 L276.3,172.3 L279.3,173.6 L282.2,174.9 L285.2,176.3 L288.1,177.7 L290.9,179.1 L293.8,180.6 L296.6,182.1 L299.5,183.7 L302.2,185.3 L305.0,187.0 L307.7,188.7 L310.4,190.4 L313.1,192.2" fill="none" stroke="#f7875a" stroke-width="1.5" stroke-opacity="0.3"/>
<path d="M132.4,172.0 L135.4,171.0 L138.4,170.1 L141.5,169.3 L144.6,168.4 L147.6,167.6 L150.7,166.9 L153.8,166.2 L156.9,165.5 L160.1,164.9 L163.2,164.3 L166.3,163.8 L169.5,163.3 L172.6,162.9 L175.8,162.5 L178.9,162.2 L182.1,161.9 L185.2,161.6 L188.4,161.4 L191.6,161.2 L194.8,161.1 L197.9,161.1 L201.1,161.1 L204.3,161.1 L207.4,161.2 L210.6,161.3 L213.8,161.5 L216.9,161.8 L220.1,162.1 L223.2,162.4 L226.4,162.8 L229.5,163.2 L232.6,163.7 L235.8,164.3 L238.9,164.9 L242.0,165.5 L245.1,166.2 L248.2,166.9 L251.2,167.7 L254.3,168.5 L257.4,169.4 L260.4,170.3 L263.5,171.3 L266.5,172.2 L269.5,173.3 L272.5,174.3 L275.5,175.4 L278.5,176.5 L281.4,177.7 L284.4,178.9 L287.3,180.1 L290.2,181.4 L293.2,182.6 L296.0,183.9 L298.9,185.3 L301.8,186.6 L304.6,188.0 L307.4,189.4 L310.3,190.8 L313.0,192.3" fill="none" stroke="#f7875a" stroke-width="1.5" stroke-opacity="0.3"/>
<path d="M132.7,173.0 L135.7,172.4 L138.8,171.9 L141.9,171.3 L145.0,170.8 L148.1,170.2 L151.2,169.7 L154.3,169.2 L157.4,168.7 L160.5,168.2 L163.6,167.8 L166.7,167.4 L169.8,167.0 L172.9,166.6 L176.0,166.3 L179.1,166.0 L182.3,165.8 L185.4,165.6 L188.5,165.5 L191.7,165.3 L194.8,165.3 L197.9,165.3 L201.0,165.3 L204.2,165.4 L207.3,165.5 L210.4,165.6 L213.6,165.8 L216.7,166.1 L219.8,166.4 L222.9,166.7 L226.0,167.1 L229.1,167.5 L232.2,168.0 L235.3,168.5 L238.4,169.1 L241.4,169.7 L244.5,170.3 L247.6,171.0 L250.6,171.7 L253.7,172.4 L256.7,173.2 L259.7,174.0 L262.8,174.8 L265.8,175.7 L268.8,176.6 L271.8,177.5 L274.8,178.5 L277.8,179.4 L280.8,180.4 L283.7,181.5 L286.7,182.5 L289.7,183.5 L292.6,184.6 L295.5,185.7 L298.5,186.8 L301.4,187.9 L304.3,189.0 L307.2,190.2 L310.1,191.3 L313.0,192.5" fill="none" stroke="#f7875a" stroke-width="1.5" stroke-opacity="0.3"/>
<path d="M131.3,169.0 L134.2,167.4 L137.1,165.8 L140.1,164.3 L143.1,163.0 L146.2,161.7 L149.2,160.4 L152.3,159.3 L155.4,158.2 L158.6,157.2 L161.8,156.2 L164.9,155.4 L168.2,154.6 L171.4,153.8 L174.6,153.2 L177.9,152.6 L181.1,152.1 L184.4,151.7 L187.7,151.3 L191.0,151.0 L194.3,150.8 L197.6,150.6 L200.9,150.5 L204.2,150.5 L207.5,150.6 L210.8,150.7 L214.1,150.9 L217.4,151.1 L220.7,151.4 L224.0,151.8 L227.3,152.3 L230.6,152.8 L233.8,153.4 L237.1,154.0 L240.3,154.7 L243.5,155.5 L246.7,156.3 L249.9,157.2 L253.1,158.2 L256.2,159.2 L259.3,160.3 L262.4,161.4 L265.5,162.6 L268.6,163.9 L271.6,165.2 L274.6,166.6 L277.6,168.1 L280.5,169.5 L283.4,171.1 L286.3,172.7 L289.2,174.4 L292.0,176.1 L294.8,177.9 L297.6,179.7 L300.3,181.6 L303.0,183.5 L305.6,185.5 L308.2,187.5 L310.8,189.6 L313.3,191.8" fill="none" stroke="#d9482f" stroke-width="1.0" stroke-opacity="0.8"/>
<path d="M131.7,170.3 L134.7,168.9 L137.7,167.6 L140.7,166.3 L143.8,165.2 L146.9,164.0 L150.0,163.0 L153.1,162.0 L156.2,161.1 L159.3,160.2 L162.5,159.4 L165.6,158.7 L168.8,158.1 L172.0,157.5 L175.2,156.9 L178.4,156.4 L181.6,156.0 L184.8,155.7 L188.1,155.4 L191.3,155.2 L194.5,155.0 L197.8,154.9 L201.0,154.9 L204.3,154.9 L207.5,154.9 L210.7,155.1 L214.0,155.3 L217.2,155.5 L220.4,155.8 L223.7,156.2 L226.9,156.6 L230.1,157.1 L233.3,157.7 L236.5,158.3 L239.7,158.9 L242.8,159.6 L246.0,160.4 L249.1,161.2 L252.3,162.1 L255.4,163.0 L258.5,164.0 L261.6,165.0 L264.6,166.1 L267.7,167.2 L270.7,168.4 L273.7,169.7 L276.7,171.0 L279.7,172.3 L282.6,173.7 L285.5,175.1 L288.4,176.6 L291.3,178.1 L294.1,179.7 L296.9,181.4 L299.7,183.0 L302.5,184.8 L305.2,186.5 L307.9,188.3 L310.5,190.2 L313.1,192.1" fill="none" stroke="#d9482f" stroke-width="1.0" stroke-opacity="0.8"/>
<path d="M132.2,171.5 L135.2,170.4 L138.2,169.4 L141.3,168.4 L144.3,167.4 L147.4,166.5 L150.5,165.7 L153.6,164.9 L156.7,164.1 L159.9,163.4 L163.0,162.8 L166.1,162.2 L169.3,161.6 L172.5,161.2 L175.6,160.7 L178.8,160.4 L182.0,160.0 L185.1,159.7 L188.3,159.5 L191.5,159.4 L194.7,159.2 L197.9,159.2 L201.1,159.2 L204.3,159.2 L207.5,159.3 L210.7,159.4 L213.8,159.6 L217.0,159.9 L220.2,160.2 L223.4,160.5 L226.5,160.9 L229.7,161.4 L232.8,161.9 L236.0,162.4 L239.1,163.1 L242.2,163.7 L245.3,164.4 L248.5,165.2 L251.5,166.0 L254.6,166.8 L257.7,167.7 L260.8,168.7 L263.8,169.6 L266.8,170.7 L269.9,171.7 L272.9,172.8 L275.9,174.0 L278.8,175.2 L281.8,176.4 L284.7,177.7 L287.6,179.0 L290.6,180.3 L293.4,181.7 L296.3,183.1 L299.2,184.6 L302.0,186.0 L304.8,187.5 L307.6,189.1 L310.3,190.7 L313.1,192.3" fill="none" stroke="#d9482f" stroke-width="1.0" stroke-opacity="0.8"/>
<path d="M132.5,172.6 L135.6,171.8 L138.7,171.1 L141.7,170.4 L144.8,169.7 L147.9,169.1 L151.0,168.4 L154.1,167.8 L157.2,167.3 L160.3,166.7 L163.4,166.2 L166.5,165.8 L169.7,165.3 L172.8,164.9 L175.9,164.6 L179.1,164.3 L182.2,164.0 L185.3,163.8 L188.5,163.6 L191.6,163.5 L194.8,163.4 L197.9,163.4 L201.1,163.4 L204.2,163.5 L207.4,163.6 L210.5,163.7 L213.6,163.9 L216.8,164.1 L219.9,164.4 L223.0,164.8 L226.2,165.2 L229.3,165.6 L232.4,166.1 L235.5,166.6 L238.6,167.2 L241.7,167.8 L244.8,168.5 L247.8,169.2 L250.9,169.9 L253.9,170.7 L257.0,171.5 L260.0,172.3 L263.1,173.2 L266.1,174.1 L269.1,175.1 L272.1,176.1 L275.1,177.1 L278.1,178.1 L281.1,179.2 L284.0,180.3 L287.0,181.4 L289.9,182.5 L292.8,183.7 L295.8,184.9 L298.7,186.1 L301.6,187.3 L304.4,188.6 L307.3,189.8 L310.1,191.1 L313.0,192.4" fill="none" stroke="#d9482f" stroke-width="1.0" stroke-opacity="0.8"/>
<path d="M127.0,333.0 L134.1,334.7 L138.9,335.6 L143.7,336.4 L148.5,337.0 L153.3,337.6 L158.2,338.0 L165.5,338.4 L172.9,338.7 L180.2,338.9 L187.5,338.9 L194.9,338.8 L202.2,338.6 L207.1,338.3 L214.4,337.8 L219.2,337.3 L228.9,336.0 L238.5,334.4 L248.1,332.5 L260.0,329.7 L271.8,326.5 L283.5,323.1 L297.5,318.7 L316.0,312.5 L312.7,316.6 L309.0,320.5 L305.2,324.1 L303.2,325.9 L299.0,329.2 L294.7,332.3 L292.5,333.8 L288.0,336.6 L283.4,339.2 L276.3,342.9 L269.1,346.3 L261.7,349.3 L254.2,352.0 L249.1,353.6 L241.4,355.7 L233.6,357.4 L225.8,358.7 L220.5,359.4 L212.6,360.1 L204.6,360.4 L196.6,360.3 L191.3,360.0 L183.4,359.2 L178.1,358.4 L172.8,357.5 L170.2,356.9 L165.0,355.6 L159.9,354.1 L157.4,353.3 L152.4,351.3 L147.6,349.1 L143.0,346.6 L140.8,345.2 L138.6,343.7 L136.4,342.2 L134.4,340.5 L132.4,338.8 L130.5,336.9 L128.6,334.9 L127.0,333.0Z" fill="url(#gbm)" stroke="#dd4f33" stroke-width="0.5"/>
<path d="M132.4,334.9 L135.4,335.5 L138.5,336.2 L141.6,336.7 L144.7,337.3 L147.8,337.8 L150.9,338.3 L154.0,338.7 L157.1,339.1 L160.3,339.4 L163.4,339.8 L166.5,340.0 L169.6,340.3 L172.8,340.5 L175.9,340.6 L179.0,340.8 L182.2,340.9 L185.3,340.9 L188.5,340.9 L191.6,340.9 L194.7,340.9 L197.9,340.8 L201.0,340.6 L204.1,340.5 L207.3,340.3 L210.4,340.0 L213.5,339.8 L216.6,339.5 L219.8,339.1 L222.9,338.7 L226.0,338.3 L229.1,337.9 L232.2,337.4 L235.3,336.8 L238.4,336.3 L241.4,335.7 L244.5,335.1 L247.6,334.4 L250.6,333.7 L253.7,333.0 L256.7,332.3 L259.8,331.5 L262.8,330.7 L265.9,329.9 L268.9,329.0 L271.9,328.2 L274.9,327.2 L277.9,326.3 L280.9,325.4 L283.9,324.4 L286.9,323.4 L289.8,322.4 L292.8,321.3 L295.7,320.3 L298.7,319.2 L301.6,318.1 L304.5,316.9 L307.5,315.8 L310.4,314.6 L313.3,313.5" fill="none" stroke="#f7875a" stroke-width="1.5" stroke-opacity="0.3"/>
<path d="M132.0,335.6 L135.1,336.6 L138.1,337.5 L141.2,338.4 L144.3,339.2 L147.3,339.9 L150.4,340.6 L153.6,341.3 L156.7,341.9 L159.8,342.4 L162.9,342.9 L166.1,343.4 L169.2,343.8 L172.4,344.1 L175.6,344.4 L178.7,344.6 L181.9,344.8 L185.1,345.0 L188.3,345.1 L191.4,345.1 L194.6,345.1 L197.8,345.1 L201.0,345.0 L204.2,344.9 L207.4,344.7 L210.5,344.5 L213.7,344.2 L216.9,343.9 L220.0,343.6 L223.2,343.2 L226.4,342.7 L229.5,342.3 L232.6,341.8 L235.8,341.2 L238.9,340.6 L242.0,340.0 L245.1,339.3 L248.2,338.6 L251.3,337.8 L254.4,337.0 L257.5,336.2 L260.5,335.3 L263.6,334.4 L266.6,333.5 L269.6,332.5 L272.6,331.5 L275.6,330.4 L278.6,329.4 L281.6,328.2 L284.6,327.1 L287.5,325.9 L290.5,324.7 L293.4,323.5 L296.3,322.2 L299.2,320.9 L302.1,319.5 L305.0,318.2 L307.8,316.8 L310.7,315.4 L313.5,313.9" fill="none" stroke="#f7875a" stroke-width="1.5" stroke-opacity="0.3"/>
<path d="M131.7,336.2 L134.6,337.5 L137.6,338.8 L140.7,340.0 L143.7,341.1 L146.8,342.1 L149.9,343.1 L153.0,343.9 L156.1,344.7 L159.2,345.5 L162.4,346.1 L165.5,346.7 L168.7,347.3 L171.9,347.7 L175.1,348.2 L178.3,348.5 L181.6,348.8 L184.8,349.0 L188.0,349.2 L191.2,349.3 L194.5,349.4 L197.7,349.4 L200.9,349.4 L204.2,349.3 L207.4,349.1 L210.6,348.9 L213.9,348.7 L217.1,348.4 L220.3,348.0 L223.5,347.6 L226.7,347.2 L229.9,346.7 L233.1,346.1 L236.3,345.5 L239.5,344.9 L242.6,344.2 L245.8,343.5 L248.9,342.7 L252.0,341.9 L255.1,341.0 L258.2,340.1 L261.3,339.1 L264.4,338.1 L267.4,337.0 L270.5,336.0 L273.5,334.8 L276.5,333.6 L279.5,332.4 L282.5,331.1 L285.4,329.8 L288.4,328.4 L291.3,327.0 L294.2,325.6 L297.0,324.1 L299.9,322.6 L302.7,321.0 L305.5,319.4 L308.3,317.7 L311.0,316.0 L313.8,314.3" fill="none" stroke="#f7875a" stroke-width="1.5" stroke-opacity="0.3"/>
<path d="M131.4,336.7 L134.2,338.5 L137.1,340.1 L140.1,341.6 L143.0,343.0 L146.1,344.3 L149.1,345.5 L152.2,346.6 L155.3,347.6 L158.5,348.5 L161.7,349.4 L164.9,350.1 L168.1,350.8 L171.3,351.4 L174.6,351.9 L177.8,352.4 L181.1,352.8 L184.4,353.1 L187.7,353.3 L190.9,353.5 L194.2,353.6 L197.5,353.7 L200.8,353.7 L204.1,353.6 L207.4,353.5 L210.7,353.3 L214.0,353.1 L217.3,352.8 L220.5,352.4 L223.8,352.0 L227.1,351.5 L230.3,351.0 L233.6,350.5 L236.8,349.8 L240.0,349.1 L243.3,348.4 L246.5,347.6 L249.6,346.8 L252.8,345.9 L256.0,344.9 L259.1,343.9 L262.2,342.9 L265.3,341.8 L268.4,340.6 L271.4,339.4 L274.5,338.1 L277.5,336.8 L280.5,335.4 L283.4,334.0 L286.4,332.5 L289.3,330.9 L292.1,329.3 L295.0,327.7 L297.8,326.0 L300.6,324.2 L303.3,322.4 L306.1,320.5 L308.7,318.6 L311.4,316.7 L314.0,314.6" fill="none" stroke="#f7875a" stroke-width="1.5" stroke-opacity="0.3"/>
<path d="M131.1,337.3 L133.8,339.4 L136.6,341.3 L139.4,343.1 L142.3,344.8 L145.3,346.4 L148.3,347.9 L151.3,349.2 L154.5,350.4 L157.6,351.5 L160.8,352.5 L164.1,353.5 L167.3,354.3 L170.6,355.0 L173.9,355.6 L177.2,356.2 L180.6,356.7 L183.9,357.1 L187.3,357.4 L190.6,357.7 L193.9,357.9 L197.3,358.0 L200.7,358.0 L204.0,358.0 L207.4,357.9 L210.7,357.7 L214.1,357.5 L217.4,357.2 L220.8,356.8 L224.1,356.4 L227.4,355.9 L230.7,355.4 L234.1,354.8 L237.4,354.1 L240.6,353.4 L243.9,352.6 L247.2,351.8 L250.4,350.9 L253.6,349.9 L256.8,348.9 L260.0,347.8 L263.2,346.6 L266.3,345.4 L269.4,344.1 L272.5,342.8 L275.6,341.4 L278.6,339.9 L281.6,338.3 L284.5,336.8 L287.4,335.1 L290.3,333.4 L293.1,331.6 L295.9,329.7 L298.7,327.8 L301.4,325.8 L304.0,323.8 L306.7,321.7 L309.2,319.5 L311.8,317.3 L314.2,314.9" fill="none" stroke="#f7875a" stroke-width="1.5" stroke-opacity="0.3"/>
<path d="M132.2,335.3 L135.2,336.1 L138.3,336.9 L141.4,337.6 L144.5,338.3 L147.6,339.0 L150.7,339.6 L153.8,340.1 L156.9,340.6 L160.0,341.1 L163.2,341.5 L166.3,341.9 L169.5,342.2 L172.6,342.5 L175.7,342.7 L178.9,342.9 L182.1,343.1 L185.2,343.2 L188.4,343.2 L191.5,343.2 L194.7,343.2 L197.8,343.2 L201.0,343.1 L204.2,342.9 L207.3,342.7 L210.5,342.5 L213.6,342.2 L216.8,341.9 L219.9,341.6 L223.0,341.2 L226.2,340.7 L229.3,340.3 L232.4,339.8 L235.5,339.2 L238.6,338.7 L241.7,338.0 L244.8,337.4 L247.9,336.7 L251.0,336.0 L254.1,335.2 L257.1,334.4 L260.2,333.6 L263.2,332.8 L266.3,331.9 L269.3,330.9 L272.3,330.0 L275.3,329.0 L278.3,328.0 L281.3,327.0 L284.3,325.9 L287.2,324.8 L290.2,323.7 L293.1,322.5 L296.1,321.3 L299.0,320.1 L301.9,318.9 L304.8,317.6 L307.7,316.3 L310.5,315.0 L313.4,313.7" fill="none" stroke="#d9482f" stroke-width="1.0" stroke-opacity="0.8"/>
<path d="M131.8,336.0 L134.8,337.1 L137.9,338.2 L140.9,339.3 L144.0,340.2 L147.0,341.1 L150.1,342.0 L153.2,342.7 L156.4,343.4 L159.5,344.1 L162.7,344.7 L165.8,345.2 L169.0,345.7 L172.2,346.1 L175.3,346.5 L178.5,346.8 L181.7,347.0 L184.9,347.2 L188.1,347.4 L191.3,347.4 L194.6,347.5 L197.8,347.5 L201.0,347.4 L204.2,347.3 L207.4,347.1 L210.6,346.9 L213.8,346.7 L217.0,346.4 L220.2,346.0 L223.4,345.6 L226.5,345.2 L229.7,344.7 L232.9,344.2 L236.0,343.6 L239.2,343.0 L242.3,342.3 L245.5,341.6 L248.6,340.8 L251.7,340.0 L254.8,339.2 L257.9,338.3 L260.9,337.4 L264.0,336.4 L267.1,335.4 L270.1,334.4 L273.1,333.3 L276.1,332.2 L279.1,331.0 L282.1,329.8 L285.0,328.6 L288.0,327.3 L290.9,326.0 L293.8,324.6 L296.7,323.2 L299.6,321.8 L302.4,320.4 L305.3,318.8 L308.1,317.3 L310.9,315.7 L313.6,314.1" fill="none" stroke="#d9482f" stroke-width="1.0" stroke-opacity="0.8"/>
<path d="M131.5,336.5 L134.4,338.1 L137.4,339.5 L140.3,340.9 L143.4,342.1 L146.4,343.3 L149.5,344.4 L152.6,345.4 L155.7,346.3 L158.8,347.2 L162.0,347.9 L165.2,348.6 L168.4,349.2 L171.6,349.8 L174.8,350.2 L178.1,350.6 L181.3,351.0 L184.6,351.3 L187.8,351.5 L191.1,351.6 L194.3,351.7 L197.6,351.8 L200.9,351.7 L204.1,351.7 L207.4,351.5 L210.7,351.3 L213.9,351.1 L217.2,350.8 L220.4,350.4 L223.7,350.0 L226.9,349.6 L230.2,349.1 L233.4,348.5 L236.6,347.9 L239.8,347.2 L243.0,346.5 L246.1,345.7 L249.3,344.9 L252.5,344.1 L255.6,343.2 L258.7,342.2 L261.8,341.2 L264.9,340.1 L268.0,339.0 L271.0,337.8 L274.0,336.6 L277.0,335.4 L280.0,334.1 L283.0,332.7 L285.9,331.3 L288.8,329.8 L291.7,328.3 L294.6,326.8 L297.4,325.1 L300.3,323.5 L303.0,321.8 L305.8,320.0 L308.5,318.2 L311.2,316.4 L313.9,314.5" fill="none" stroke="#d9482f" stroke-width="1.0" stroke-opacity="0.8"/>
<path d="M131.2,337.0 L134.0,339.0 L136.8,340.8 L139.7,342.4 L142.6,344.0 L145.6,345.5 L148.7,346.8 L151.8,348.0 L154.9,349.2 L158.0,350.2 L161.2,351.1 L164.4,352.0 L167.7,352.7 L170.9,353.4 L174.2,354.0 L177.5,354.5 L180.8,354.9 L184.1,355.3 L187.4,355.6 L190.8,355.8 L194.1,356.0 L197.4,356.0 L200.7,356.1 L204.1,356.0 L207.4,355.9 L210.7,355.7 L214.0,355.5 L217.4,355.2 L220.7,354.9 L224.0,354.4 L227.3,354.0 L230.6,353.4 L233.8,352.8 L237.1,352.2 L240.4,351.5 L243.6,350.7 L246.9,349.9 L250.1,349.0 L253.3,348.1 L256.4,347.1 L259.6,346.0 L262.7,344.9 L265.9,343.8 L269.0,342.5 L272.0,341.2 L275.1,339.9 L278.1,338.5 L281.1,337.0 L284.0,335.5 L286.9,333.9 L289.8,332.3 L292.7,330.6 L295.5,328.8 L298.3,327.0 L301.0,325.1 L303.7,323.2 L306.4,321.2 L309.0,319.1 L311.6,317.0 L314.1,314.8" fill="none" stroke="#d9482f" stroke-width="1.0" stroke-opacity="0.8"/></g>
<g id="eyeR" transform="translate(333.0 0)"><path d="M97.7,193.4 L93.2,199.4 L89.7,202.9 L85.9,206.0 L75.3,213.7 L69.0,219.1 L64.6,224.0 L60.8,229.4 L58.9,233.0 L57.4,236.8 L56.4,240.7 L55.5,245.5 L55.1,250.4 L55.1,255.4 L55.4,260.4 L56.2,265.3 L57.9,271.6 L60.6,277.4 L64.3,282.8 L69.3,288.2 L76.3,294.1 L87.8,301.9 L92.2,305.2 L95.9,308.6 L103.3,316.3 L107.1,319.6 L118.1,326.6 L126.2,330.8 L132.3,333.1 L139.3,335.1 L146.6,336.5 L154.7,337.6 L163.7,338.3 L171.9,338.5 L179.3,338.1 L185.8,337.1 L190.7,335.9 L195.4,334.4 L199.8,332.4 L204.1,330.1 L208.9,327.0 L213.5,323.6 L226.6,312.6 L228.3,311.7 L230.2,311.0 L232.1,310.8 L234.7,311.1 L243.9,314.1 L251.6,315.9 L258.2,316.8 L264.1,317.2 L271.1,317.2 L277.9,316.5 L284.7,315.2 L291.2,313.4 L296.1,311.5 L300.7,309.3 L305.2,306.8 L309.3,304.0 L313.6,300.6 L317.4,296.9 L320.2,293.8 L322.1,290.7 L323.0,287.6 L323.3,284.0 L322.6,280.2 L321.3,277.2 L319.2,274.3 L316.1,271.9 L313.2,270.5 L309.7,269.7 L305.8,269.9 L301.7,271.2 L298.7,273.2 L293.7,278.0 L289.2,281.4 L283.8,284.1 L277.8,286.0 L274.2,286.7 L270.1,287.2 L266.3,287.3 L262.0,287.1 L255.5,286.0 L253.1,284.9 L251.6,283.6 L250.3,282.1 L249.4,280.4 L248.8,278.5 L248.6,276.6 L250.0,265.9 L250.8,256.1 L250.8,249.5 L250.2,243.8 L249.1,238.2 L247.2,231.1 L243.9,220.9 L241.1,213.2 L238.1,206.5 L234.9,200.8 L229.8,193.3 L225.1,187.5 L221.1,183.2 L216.7,179.5 L212.1,176.4 L207.0,173.8 L201.0,171.5 L194.5,169.9 L187.2,168.7 L179.7,168.1 L171.5,168.0 L162.6,168.4 L152.8,169.3 L143.9,170.7 L137.5,172.0 L131.1,173.8 L125.0,176.0 L119.0,178.7 L111.7,182.5 L105.5,186.4 L101.0,189.9 L97.7,193.4Z" fill="#49b9c5"/>
<path d="M100.2,195.7 L96.2,201.1 L93.1,204.4 L89.2,207.8 L78.6,215.4 L73.7,219.4 L68.8,224.3 L64.9,229.2 L63.0,232.4 L61.7,235.0 L60.7,237.9 L59.7,241.5 L58.6,249.0 L58.6,257.7 L59.5,264.6 L61.4,271.1 L63.9,276.4 L67.9,281.8 L71.6,285.8 L76.4,289.9 L80.9,293.2 L90.5,299.6 L95.0,303.2 L98.3,306.2 L105.2,313.4 L108.6,316.5 L108.6,188.4 L103.8,192.0 L100.2,195.7Z" fill="#7fd0d9"/>
<path d="M101.7,196.8 L97.6,202.3 L94.4,205.8 L90.3,209.3 L80.4,216.5 L75.5,220.4 L70.7,225.0 L66.9,229.6 L63.8,235.1 L61.7,241.2 L60.6,248.4 L60.4,256.8 L61.2,263.5 L62.9,269.8 L65.2,274.8 L68.9,280.0 L72.9,284.4 L77.6,288.4 L82.0,291.6 L91.6,298.1 L96.3,301.7 L108.6,314.0 L108.6,190.7 L104.5,193.9 L101.7,196.8Z" fill="url(#gaq)"/>
<path d="M101.6,197.0 L97.7,202.3 L95.0,205.2 L93.1,208.3 L89.2,215.7 L86.0,223.4 L83.5,231.3 L81.9,239.5 L81.1,247.8 L81.1,256.2 L81.9,264.5 L83.5,272.7 L86.0,280.6 L89.2,288.3 L93.1,295.7 L97.7,302.6 L98.8,304.0 L108.6,314.0 L108.6,190.7 L104.5,193.9 L101.6,197.0Z" fill="url(#giris)"/>
<ellipse cx="101.0" cy="253" rx="8.0" ry="23.2" fill="#9a9088"/>
<ellipse cx="102.4" cy="253" rx="7.6" ry="22.2" fill="#4b3c34"/>
<path d="M108.3,314.5 L111.8,317.3 L122.2,324.2 L129.1,327.9 L132.5,329.3 L136.0,330.4 L136.0,331.4 L136.6,331.6 L147.5,333.8 L160.2,335.1 L171.4,335.5 L176.9,335.1 L181.5,334.6 L186.9,333.5 L191.4,332.1 L195.7,330.4 L200.4,328.0 L205.6,324.7 L210.7,320.9 L217.0,315.7 L224.5,309.2 L226.9,307.8 L229.6,306.9 L232.4,306.6 L235.2,306.8 L244.3,309.6 L250.6,311.2 L257.9,312.4 L265.1,312.9 L271.7,312.7 L279.0,311.9 L285.5,310.5 L291.7,308.5 L297.7,305.9 L302.8,303.1 L308.2,299.3 L312.7,295.4 L316.3,291.7 L317.9,289.3 L318.8,286.4 L318.8,283.0 L318.3,280.9 L317.5,279.3 L316.2,277.6 L315.1,276.5 L313.4,275.3 L311.4,274.5 L309.6,274.1 L307.5,274.1 L304.8,274.7 L302.4,275.9 L295.8,282.1 L290.4,285.8 L284.9,288.4 L279.3,290.2 L275.5,291.0 L271.6,291.5 L263.6,291.6 L258.8,291.1 L254.6,290.3 L252.8,289.7 L250.4,288.4 L248.2,286.7 L245.9,283.8 L244.7,281.2 L244.1,278.6 L244.0,274.8 L245.0,267.7 L245.8,259.7 L246.0,250.9 L245.7,247.1 L245.0,242.5 L242.3,231.9 L237.4,217.3 L235.3,212.2 L233.3,208.0 L230.6,203.3 L227.1,197.9 L223.8,193.4 L220.2,189.2 L214.5,183.8 L211.5,181.5 L208.3,179.6 L205.0,177.9 L200.9,176.2 L192.5,173.9 L183.2,172.5 L171.9,172.1 L160.0,172.6 L146.5,174.2 L136.1,176.1 L132.5,177.2 L129.1,178.5 L125.6,180.0 L118.7,183.6 L111.8,187.8 L108.3,190.2 L108.3,314.5Z" fill="url(#gwall)"/>
<path d="M141.6,324.3 L153.5,326.0 L161.1,326.6 L167.0,326.8 L176.3,326.2 L180.9,325.5 L184.9,324.5 L191.5,321.9 L198.4,317.8 L205.5,312.5 L216.2,303.3 L218.5,301.7 L220.8,300.4 L223.4,299.4 L227.4,298.6 L230.1,298.4 L234.1,298.9 L247.8,303.4 L253.5,304.7 L259.4,305.6 L265.3,306.0 L271.1,305.9 L277.0,305.2 L281.9,304.3 L287.6,302.7 L292.3,300.8 L296.9,298.5 L301.2,295.9 L306.1,292.1 L311.0,287.3 L311.9,285.8 L311.9,283.9 L311.4,282.5 L310.1,281.4 L308.5,281.0 L306.9,281.3 L305.8,281.9 L300.5,287.1 L295.1,291.0 L288.9,294.2 L281.9,296.7 L276.6,297.8 L270.7,298.5 L264.7,298.5 L258.6,298.0 L250.6,296.5 L248.2,295.8 L245.7,294.8 L243.3,293.4 L241.1,291.7 L239.2,289.8 L237.5,287.7 L236.1,285.3 L235.0,282.8 L234.3,280.1 L233.9,277.4 L233.9,273.3 L235.4,262.0 L141.6,262.0 L141.6,324.3Z" fill="#f39a6c"/>
<path d="M120.2,251.8 L119.8,274.2 L120.0,282.6 L120.5,289.5 L121.6,296.2 L123.3,302.6 L125.6,308.5 L128.8,314.5 L131.6,318.5 L134.0,320.5 L137.3,322.1 L141.9,323.2 L147.6,324.1 L155.9,325.0 L164.2,325.4 L170.7,325.4 L176.8,324.8 L181.3,323.9 L185.6,322.6 L189.6,321.0 L193.4,319.0 L197.6,316.3 L202.2,312.9 L215.9,301.4 L219.6,299.3 L226.5,296.9 L229.2,295.0 L230.9,293.1 L232.6,289.8 L233.4,286.2 L233.3,283.7 L232.1,278.7 L231.9,275.4 L232.0,272.7 L233.4,262.0 L235.2,261.0 L236.5,259.7 L237.5,258.3 L238.3,256.6 L238.7,254.9 L238.7,252.5 L238.2,245.8 L236.5,238.0 L232.8,225.9 L229.7,217.3 L226.7,210.7 L222.6,203.9 L217.3,196.5 L212.5,191.1 L207.5,186.9 L202.5,183.9 L196.8,181.6 L190.1,179.8 L182.9,178.7 L174.6,178.1 L166.1,178.2 L156.2,178.9 L146.2,180.1 L138.4,181.6 L136.2,182.7 L134.6,184.0 L131.2,187.9 L128.4,192.1 L126.0,196.8 L123.7,203.0 L122.4,207.8 L121.4,212.8 L120.3,222.8 L120.0,231.3 L120.2,251.8Z" fill="url(#gint)"/>
<path d="M238.2,263.0 L238.7,256.1 L238.7,251.6 L238.0,263.0 L238.2,263.0ZM234.9,232.4 L231.3,221.5 L228.3,213.9 L225.0,207.6 L220.5,200.8 L215.4,194.3 L210.5,189.3 L205.8,185.8 L200.1,182.9 L196.3,181.4 L192.2,180.3 L183.6,178.7 L173.0,178.1 L161.5,178.4 L147.7,179.9 L136.7,182.0 L131.6,187.4 L137.9,183.8 L141.3,182.4 L144.2,181.5 L147.2,181.0 L150.1,180.8 L152.9,181.2 L154.9,181.9 L158.5,184.1 L161.6,187.2 L164.7,191.4 L171.1,202.1 L173.9,206.3 L177.9,210.6 L182.0,213.7 L186.5,216.0 L189.3,216.8 L192.2,217.4 L198.0,217.7 L206.1,217.0 L209.0,217.0 L213.3,217.5 L217.5,218.6 L222.2,220.6 L226.5,223.4 L229.3,225.7 L231.4,227.8 L234.9,232.4Z" fill="url(#gsub)"/>
<path d="M112,197 L114.5,214 L118.5,209 L122.5,214 L126.5,197 L122,204 L118.5,198 L115,204 Z" fill="#d63a2a"/>
<path d="M114.2,215 Q112.7,206 114.1,196.5 Q117.3,206 117.60000000000001,215 Z" fill="#fdead0"/>
<path d="M119.69999999999999,215 Q120.0,206 123.2,196.5 Q124.6,206 123.1,215 Z" fill="#fdead0"/>
<path d="M112,309 L114.5,292 L118.5,297 L122.5,292 L126.5,309 L122,302 L118.5,308 L115,302 Z" fill="#d63a2a"/>
<path d="M114.2,291 Q112.7,300 114.1,309.5 Q117.3,300 117.60000000000001,291 Z" fill="#fdead0"/>
<path d="M119.69999999999999,291 Q120.0,300 123.2,309.5 Q124.6,300 123.1,291 Z" fill="#fdead0"/>
<path d="M127.4,252.6 L127.4,255.5 L127.3,257.9 L127.3,260.2 L127.1,262.3 L127.0,264.4 L126.8,266.4 L126.6,268.4 L126.4,270.3 L126.1,272.1 L125.8,273.8 L125.4,275.5 L125.1,277.1 L124.7,278.6 L124.3,280.1 L123.8,281.5 L123.3,282.8 L122.8,284.0 L122.3,285.2 L121.8,286.2 L121.2,287.2 L120.6,288.1 L120.0,288.9 L119.3,289.6 L118.7,290.2 L118.0,290.7 L117.2,291.1 L116.5,291.5 L115.7,291.7 L114.9,291.9 L113.9,291.9 L112.9,291.9 L112.1,291.7 L111.3,291.5 L110.6,291.1 L109.8,290.7 L109.1,290.2 L108.5,289.6 L107.8,288.9 L107.2,288.1 L106.6,287.2 L106.0,286.2 L105.5,285.2 L105.0,284.0 L104.5,282.8 L104.0,281.5 L103.5,280.1 L103.1,278.6 L102.7,277.1 L102.4,275.5 L102.0,273.8 L101.7,272.1 L101.4,270.3 L101.2,268.4 L101.0,266.4 L100.8,264.4 L100.7,262.3 L100.5,260.2 L100.5,257.9 L100.4,255.5 L100.4,252.6 L100.4,249.7 L100.5,247.3 L100.5,245.0 L100.7,242.9 L100.8,240.8 L101.0,238.8 L101.2,236.8 L101.4,234.9 L101.7,233.1 L102.0,231.4 L102.4,229.7 L102.7,228.1 L103.1,226.6 L103.5,225.1 L104.0,223.7 L104.5,222.4 L105.0,221.2 L105.5,220.0 L106.0,219.0 L106.6,218.0 L107.2,217.1 L107.8,216.3 L108.5,215.6 L109.1,215.0 L109.8,214.5 L110.6,214.1 L111.3,213.7 L112.1,213.5 L112.9,213.3 L113.9,213.3 L114.9,213.3 L115.7,213.5 L116.5,213.7 L117.2,214.1 L118.0,214.5 L118.7,215.0 L119.3,215.6 L120.0,216.3 L120.6,217.1 L121.2,218.0 L121.8,219.0 L122.3,220.0 L122.8,221.2 L123.3,222.4 L123.8,223.7 L124.3,225.1 L124.7,226.6 L125.1,228.1 L125.4,229.7 L125.8,231.4 L126.1,233.1 L126.4,234.9 L126.6,236.8 L126.8,238.8 L127.0,240.8 L127.1,242.9 L127.3,245.0 L127.3,247.3 L127.4,249.7 L127.4,252.6Z" fill="url(#glens)"/>
<ellipse cx="229.5" cy="289.5" rx="4.2" ry="7.5" transform="rotate(-18 229.5 289.5)" fill="#f6a276"/>
<path d="M230.7,295.2 L238.1,299.0 L244.1,301.4 L250.4,303.4 L255.9,304.7 L262.4,305.7 L267.9,306.1 L273.4,306.0 L278.8,305.4 L284.3,304.2 L289.5,302.5 L294.6,300.2 L299.4,297.3 L304.8,293.2 L309.8,288.5 L311.9,285.8 L312.2,284.8 L312.1,283.7 L311.4,282.1 L310.3,281.1 L308.6,280.6 L307.2,280.9 L306.0,281.7 L303.0,284.9 L299.3,288.2 L296.2,290.6 L292.9,292.6 L288.6,294.8 L285.1,296.2 L281.4,297.3 L277.7,298.0 L272.9,298.6 L267.1,298.6 L262.2,298.2 L256.3,297.2 L251.4,296.0 L245.7,294.1 L240.1,291.8 L234.5,289.0 L233.0,288.7 L231.6,289.0 L230.4,289.8 L229.6,291.0 L229.4,292.0 L229.5,293.5 L230.0,294.4 L230.7,295.2Z" fill="#d12b2b"/>
<path d="M233.5,294.4 L234.4,294.9 L235.4,295.4 L236.3,295.8 L237.2,296.3 L238.1,296.7 L239.1,297.2 L240.0,297.6 L241.0,298.0 L242.0,298.4 L242.9,298.8 L243.9,299.2 L244.9,299.6 L245.9,299.9 L246.9,300.3 L247.9,300.6 L248.9,300.9 L249.9,301.2 L250.9,301.5 L251.9,301.8 L253.0,302.1 L254.0,302.4 L255.0,302.6 L256.0,302.8 L257.1,303.0 L258.1,303.2 L259.1,303.4 L260.2,303.6 L261.2,303.7 L262.3,303.9 L263.3,304.0 L264.3,304.1 L265.4,304.2 L266.4,304.3 L267.5,304.3 L268.5,304.4 L269.5,304.4 L270.6,304.4 L271.6,304.4 L272.6,304.3 L273.7,304.3 L274.7,304.2 L275.7,304.1 L276.8,304.0 L277.8,303.8 L278.8,303.7 L279.8,303.5 L280.8,303.3 L281.8,303.1 L282.8,302.9 L283.8,302.6 L284.8,302.3 L285.8,302.0 L286.8,301.7 L287.7,301.4 L288.7,301.0 L289.7,300.6 L290.6,300.2 L291.6,299.8 L292.5,299.3 L293.4,298.9 L294.3,298.4 L295.2,297.9 L296.1,297.3 L297.0,296.8 L297.9,296.2 L298.8,295.6 L299.6,295.0 L300.5,294.4 L301.3,293.7 L302.2,293.1 L303.0,292.4 L303.8,291.7 L304.6,291.0 L305.3,290.3 L306.1,289.5 L306.8,288.7 L307.6,288.0 L308.0,287.5" fill="none" stroke="#3f8fcf" stroke-width="2.3" stroke-linecap="round"/>
<path d="M130.9,191.1 L138.4,186.5 L144.1,184.3 L146.8,183.7 L149.4,183.5 L151.8,183.7 L153.3,184.1 L154.8,184.8 L156.7,186.2 L160.4,190.0 L163.2,194.1 L169.6,204.8 L173.2,209.7 L177.2,213.6 L181.2,216.4 L186.4,218.8 L189.4,219.6 L192.5,220.2 L198.1,220.4 L208.2,219.7 L210.9,219.8 L214.1,220.4 L217.3,221.4 L220.9,223.0 L224.4,225.1 L227.5,227.7 L230.7,231.1 L233.3,235.0 L235.1,239.2 L236.0,242.9 L236.2,247.7 L235.7,257.7 L235.0,265.6 L233.8,274.7 L233.9,277.4 L234.6,281.5 L236.1,285.3 L238.3,288.8 L241.1,291.7 L243.3,293.4 L245.7,294.8 L248.2,295.8 L251.9,296.8 L260.4,298.3 L268.4,298.6 L276.1,297.9 L280.5,297.0 L284.7,295.8 L288.9,294.2 L292.8,292.3 L296.3,290.2 L299.3,288.1 L302.5,285.4 L305.8,281.9 L307.1,281.2 L308.7,281.0 L310.3,281.6 L311.5,282.8 L312.0,284.3 L312.0,285.3 L311.6,286.4 L309.9,288.4 L306.0,292.2 L301.3,295.8 L297.6,298.1 L293.1,300.5 L288.4,302.4 L283.6,303.9 L277.8,305.1 L272.0,305.8 L266.1,306.0 L260.2,305.7 L254.4,304.9 L248.6,303.6 L243.7,302.2 L236.7,299.6 L234.1,298.9 L230.1,298.4 L226.0,298.8 L222.1,299.9 L218.5,301.7 L216.2,303.3 L206.2,312.0 L199.6,317.0 L193.7,320.7 L187.9,323.5 L183.6,324.8 L179.0,325.8 L174.3,326.5 L169.2,326.8 L163.4,326.7 L155.8,326.2 L149.0,325.5 L143.0,324.6 L141.1,325.4 L140.4,326.2 L140.1,327.0 L140.3,328.7 L140.7,329.5 L141.6,330.2 L144.2,330.9 L152.0,331.9 L159.8,332.6 L166.9,332.8 L172.2,332.6 L177.5,332.1 L182.0,331.3 L186.3,330.2 L192.5,327.9 L198.8,324.5 L203.2,321.5 L208.2,317.7 L220.7,307.1 L224.2,305.2 L228.1,304.2 L231.1,304.1 L233.1,304.4 L241.2,307.3 L246.4,308.9 L252.6,310.3 L258.9,311.2 L265.3,311.6 L271.5,311.4 L277.9,310.8 L283.4,309.7 L288.5,308.2 L293.0,306.6 L297.9,304.3 L302.1,302.0 L306.7,298.8 L310.4,295.8 L314.7,291.5 L316.5,289.1 L317.4,286.8 L317.6,284.4 L317.3,282.0 L316.3,279.8 L314.7,277.9 L312.9,276.5 L310.6,275.6 L308.2,275.4 L305.7,275.7 L303.1,277.0 L296.4,283.2 L293.5,285.4 L290.5,287.2 L284.8,289.8 L278.5,291.7 L274.6,292.4 L270.5,292.9 L262.3,292.8 L258.0,292.3 L253.2,291.4 L249.8,290.5 L247.1,289.2 L243.9,286.8 L241.9,284.5 L240.1,280.9 L239.4,277.9 L239.2,274.9 L240.8,261.8 L241.5,250.0 L241.5,243.8 L240.7,239.1 L239.1,234.6 L236.8,230.4 L233.9,226.6 L230.6,223.2 L226.9,220.3 L223.4,218.2 L219.2,216.3 L215.4,215.2 L212.2,214.6 L208.3,214.3 L198.6,215.0 L193.9,214.9 L188.7,213.9 L186.3,213.0 L184.0,211.8 L179.7,208.6 L176.0,204.6 L173.4,200.7 L167.0,190.0 L163.1,184.8 L159.5,181.5 L157.4,180.1 L155.1,179.1 L152.0,178.3 L148.6,178.1 L145.1,178.6 L141.2,179.6 L136.7,181.3 L132.7,183.5 L128.1,186.5 L127.2,187.9 L127.1,188.9 L127.5,189.9 L128.1,190.7 L129.1,191.2 L130.1,191.3 L130.9,191.1Z" fill="#fde4a3"/>
<ellipse cx="230" cy="290" rx="3.4" ry="6.5" transform="rotate(-18 230 290)" fill="#f6a276"/>
<path d="M147.0,210.4 L147.6,210.4 L148.1,210.5 L148.7,210.5 L149.3,210.6 L149.8,210.6 L150.4,210.7 L150.9,210.8 L151.5,210.9 L152.0,211.0 L152.6,211.1 L153.1,211.2 L153.7,211.3 L154.2,211.4 L154.8,211.6 L155.3,211.7 L155.8,211.9 L156.4,212.1 L156.9,212.2 L157.4,212.4 L158.0,212.6 L158.5,212.8 L159.0,213.0 L159.5,213.2 L160.0,213.4 L160.6,213.7 L161.1,213.9 L161.6,214.1 L162.1,214.4 L162.6,214.6 L163.1,214.9 L163.6,215.2 L164.1,215.4 L164.5,215.7 L165.0,216.0 L165.5,216.3 L166.0,216.6 L166.5,216.9 L166.9,217.2 L167.4,217.5" fill="none" stroke="#cc3a30" stroke-width="1.9" stroke-linecap="round" opacity="0.78"/>
<path d="M156.5,219.2 L156.8,219.1 L157.2,219.0 L157.5,219.0 L157.8,218.9 L158.1,218.8 L158.5,218.7 L158.8,218.6 L159.1,218.5 L159.4,218.4 L159.8,218.3 L160.1,218.2 L160.4,218.1 L160.7,218.0 L161.1,217.9 L161.4,217.8 L161.7,217.7 L162.0,217.6 L162.3,217.5 L162.6,217.4 L163.0,217.3 L163.3,217.1 L163.6,217.0 L163.9,216.9 L164.2,216.8 L164.5,216.6 L164.8,216.5 L165.2,216.4 L165.5,216.2 L165.8,216.1 L166.1,216.0 L166.4,215.8 L166.7,215.7 L167.0,215.5 L167.3,215.4 L167.6,215.2 L167.9,215.1 L168.2,214.9 L168.5,214.8 L168.8,214.6" fill="none" stroke="#cc3a30" stroke-width="1.9" stroke-linecap="round" opacity="0.78"/>
<path d="M159.0,227.0 L159.4,227.2 L159.9,227.3 L160.3,227.5 L160.7,227.6 L161.2,227.8 L161.6,227.9 L162.1,228.0 L162.6,228.1 L163.0,228.2 L163.5,228.3 L164.0,228.5 L164.4,228.6 L164.9,228.7 L165.4,228.8 L165.8,228.9 L166.3,229.0 L166.7,229.2 L167.2,229.3 L167.7,229.4 L168.1,229.6 L168.5,229.7 L169.0,229.9 L169.4,230.1 L169.8,230.3 L170.2,230.5 L170.6,230.7 L171.0,231.0 L171.3,231.2 L171.7,231.5 L172.0,231.8 L172.4,232.1 L172.7,232.5 L173.0,232.8 L173.3,233.2 L173.5,233.6 L173.8,234.1 L174.0,234.5 L174.2,235.0 L174.4,235.5" fill="none" stroke="#cc3a30" stroke-width="1.9" stroke-linecap="round" opacity="0.78"/>
<path d="M179.7,224.7 L179.9,224.8 L180.0,224.9 L180.2,225.0 L180.3,225.1 L180.5,225.2 L180.7,225.3 L180.8,225.4 L181.0,225.5 L181.2,225.6 L181.3,225.7 L181.5,225.8 L181.7,225.9 L181.8,226.0 L182.0,226.1 L182.2,226.1 L182.3,226.2 L182.5,226.3 L182.7,226.4 L182.8,226.4 L183.0,226.5 L183.2,226.6 L183.4,226.6 L183.5,226.7 L183.7,226.8 L183.9,226.8 L184.1,226.9 L184.3,226.9 L184.4,227.0 L184.6,227.0 L184.8,227.1 L185.0,227.1 L185.2,227.2 L185.4,227.2 L185.6,227.2 L185.7,227.3 L185.9,227.3 L186.1,227.3 L186.3,227.4 L186.5,227.4" fill="none" stroke="#cc3a30" stroke-width="1.9" stroke-linecap="round" opacity="0.78"/>
<path d="M192.0,229.6 L192.6,229.6 L193.2,229.7 L193.7,229.7 L194.3,229.7 L194.9,229.7 L195.5,229.7 L196.1,229.7 L196.6,229.7 L197.2,229.7 L197.8,229.6 L198.4,229.6 L199.0,229.5 L199.5,229.5 L200.1,229.4 L200.7,229.4 L201.3,229.3 L201.8,229.2 L202.4,229.1 L203.0,229.0 L203.6,228.9 L204.1,228.8 L204.7,228.6 L205.3,228.5 L205.8,228.3 L206.4,228.2 L206.9,228.0 L207.5,227.8 L208.0,227.6 L208.6,227.4 L209.1,227.2 L209.6,226.9 L210.2,226.7 L210.7,226.5 L211.2,226.2 L211.7,225.9 L212.2,225.6 L212.7,225.3 L213.2,225.0 L213.7,224.7" fill="none" stroke="#cc3a30" stroke-width="1.9" stroke-linecap="round" opacity="0.78"/>
<path d="M170.0,241.8 L170.5,241.8 L171.1,241.8 L171.7,241.9 L172.2,241.9 L172.8,241.9 L173.4,241.9 L174.0,241.9 L174.5,241.9 L175.1,241.8 L175.7,241.8 L176.3,241.7 L176.9,241.7 L177.5,241.6 L178.1,241.5 L178.7,241.4 L179.2,241.3 L179.8,241.2 L180.4,241.1 L180.9,240.9 L181.5,240.7 L182.0,240.6 L182.5,240.4 L183.1,240.1 L183.6,239.9 L184.1,239.6 L184.5,239.3 L185.0,239.0 L185.4,238.7 L185.9,238.3 L186.3,238.0 L186.7,237.6 L187.0,237.2 L187.4,236.7 L187.7,236.2 L188.0,235.7 L188.3,235.2 L188.6,234.6 L188.8,234.1 L189.0,233.4" fill="none" stroke="#cc3a30" stroke-width="1.9" stroke-linecap="round" opacity="0.78"/>
<path d="M217.5,225.0 L218.3,226.3 L219.1,227.7 L219.8,229.1 L220.4,230.6 L221.0,232.0 L221.6,233.4 L222.1,234.9 L222.6,236.4 L223.0,237.9 L223.4,239.3 L223.7,240.8 L224.0,242.3 L224.3,243.9 L224.6,245.4 L224.8,246.9 L225.0,248.4 L225.2,250.0 L225.3,251.5 L225.5,253.1 L225.6,254.6 L225.7,256.2 L225.8,257.7 L225.9,259.3 L226.0,260.9 L226.1,262.4 L226.2,264.0 L226.3,265.6 L226.4,267.1 L226.6,268.7 L226.7,270.2 L226.8,271.8 L227.0,273.3 L227.2,274.9 L227.4,276.4 L227.6,277.9 L227.9,279.5 L228.2,281.0 L228.5,282.5 L228.8,284.0" fill="none" stroke="#cc3a30" stroke-width="1.9" stroke-linecap="round" opacity="0.78"/>
<path d="M184.0,259.8 L184.8,260.1 L185.5,260.3 L186.3,260.6 L187.1,260.8 L187.8,261.0 L188.6,261.2 L189.4,261.3 L190.2,261.5 L191.0,261.6 L191.8,261.7 L192.6,261.7 L193.5,261.8 L194.3,261.8 L195.1,261.8 L195.9,261.8 L196.7,261.7 L197.5,261.7 L198.3,261.6 L199.1,261.4 L199.9,261.3 L200.7,261.1 L201.4,260.9 L202.2,260.7 L203.0,260.5 L203.7,260.2 L204.5,259.9 L205.2,259.6 L205.9,259.2 L206.6,258.8 L207.3,258.4 L208.0,258.0 L208.6,257.5 L209.3,257.0 L209.9,256.5 L210.5,256.0 L211.1,255.4 L211.6,254.8 L212.2,254.1 L212.7,253.5" fill="none" stroke="#cc3a30" stroke-width="1.9" stroke-linecap="round" opacity="0.78"/>
<path d="M200.0,247.0 L200.2,247.2 L200.4,247.4 L200.6,247.5 L200.9,247.7 L201.1,247.9 L201.3,248.1 L201.5,248.3 L201.7,248.5 L201.9,248.7 L202.1,248.9 L202.3,249.1 L202.4,249.3 L202.6,249.5 L202.8,249.7 L203.0,249.9 L203.2,250.1 L203.3,250.3 L203.5,250.5 L203.7,250.7 L203.8,250.9 L204.0,251.2 L204.2,251.4 L204.3,251.6 L204.5,251.8 L204.6,252.1 L204.8,252.3 L204.9,252.5 L205.0,252.8 L205.2,253.0 L205.3,253.2 L205.4,253.5 L205.6,253.7 L205.7,254.0 L205.8,254.2 L205.9,254.5 L206.1,254.7 L206.2,255.0 L206.3,255.2 L206.4,255.5" fill="none" stroke="#cc3a30" stroke-width="1.9" stroke-linecap="round" opacity="0.78"/>
<path d="M216.0,253.5 L216.2,253.8 L216.3,254.1 L216.5,254.4 L216.7,254.7 L216.8,254.9 L217.0,255.2 L217.2,255.5 L217.4,255.7 L217.6,256.0 L217.8,256.3 L218.0,256.5 L218.2,256.8 L218.4,257.0 L218.6,257.2 L218.9,257.5 L219.1,257.7 L219.3,257.9 L219.5,258.1 L219.8,258.3 L220.0,258.5 L220.3,258.7 L220.5,258.9 L220.8,259.1 L221.0,259.3 L221.3,259.5 L221.6,259.6 L221.8,259.8 L222.1,260.0 L222.4,260.1 L222.7,260.3 L222.9,260.4 L223.2,260.6 L223.5,260.7 L223.8,260.8 L224.1,260.9 L224.4,261.1 L224.8,261.2 L225.1,261.3 L225.4,261.4" fill="none" stroke="#cc3a30" stroke-width="1.9" stroke-linecap="round" opacity="0.78"/>
<path d="M214.0,272.0 L214.3,272.4 L214.5,272.9 L214.8,273.3 L215.1,273.7 L215.4,274.2 L215.7,274.6 L216.0,274.9 L216.3,275.3 L216.6,275.7 L217.0,276.1 L217.3,276.4 L217.7,276.8 L218.0,277.1 L218.4,277.5 L218.8,277.8 L219.1,278.1 L219.5,278.4 L219.9,278.7 L220.3,279.0 L220.7,279.3 L221.1,279.6 L221.5,279.9 L222.0,280.2 L222.4,280.5 L222.8,280.7 L223.2,281.0 L223.7,281.2 L224.1,281.5 L224.5,281.7 L225.0,282.0 L225.4,282.2 L225.9,282.5 L226.3,282.7 L226.8,282.9 L227.2,283.1 L227.7,283.4 L228.1,283.6 L228.6,283.8 L229.0,284.0" fill="none" stroke="#cc3a30" stroke-width="1.9" stroke-linecap="round" opacity="0.78"/>
<path d="M223.8,292.3 L222.6,292.7 L221.4,292.9 L220.3,293.1 L219.1,293.2 L218.0,293.2 L216.8,293.1 L215.7,292.9 L214.5,292.7 L213.4,292.4 L212.3,292.1 L211.1,291.8 L210.0,291.4 L208.9,291.0 L207.7,290.6 L206.6,290.2 L205.5,289.8 L204.3,289.4 L203.2,289.1 L202.0,288.7 L200.9,288.5 L199.7,288.2 L198.6,288.0 L197.4,287.9 L196.3,287.7 L195.1,287.7 L194.0,287.7 L192.8,287.7 L191.6,287.8 L190.5,287.9 L189.3,288.1 L188.2,288.4 L187.1,288.7 L185.9,289.0 L184.8,289.4 L183.7,289.9 L182.6,290.4 L181.5,291.0 L180.4,291.7 L179.4,292.4" fill="none" stroke="#8b92ba" stroke-width="2.2" stroke-linecap="round" opacity="0.92"/>
<path d="M203.0,270.5 L203.4,270.8 L203.8,271.2 L204.1,271.6 L204.5,272.1 L204.9,272.5 L205.3,273.0 L205.6,273.5 L206.0,274.0 L206.3,274.6 L206.7,275.1 L207.0,275.7 L207.3,276.2 L207.6,276.8 L207.9,277.4 L208.2,278.0 L208.4,278.6 L208.7,279.2 L208.9,279.8 L209.0,280.4 L209.2,281.0 L209.3,281.6 L209.4,282.2 L209.5,282.8 L209.5,283.3 L209.5,283.9 L209.4,284.5 L209.4,285.0 L209.2,285.6 L209.1,286.1 L208.9,286.6 L208.6,287.1 L208.3,287.6 L208.0,288.1 L207.6,288.5 L207.1,289.0 L206.6,289.4 L206.0,289.7 L205.4,290.1 L204.7,290.4" fill="none" stroke="#8b92ba" stroke-width="2.2" stroke-linecap="round" opacity="0.92"/>
<path d="M171.2,270.4 L171.9,270.4 L172.6,270.5 L173.3,270.6 L174.0,270.8 L174.6,271.0 L175.3,271.2 L175.9,271.4 L176.6,271.7 L177.2,272.0 L177.9,272.3 L178.5,272.6 L179.1,273.0 L179.7,273.4 L180.2,273.8 L180.8,274.2 L181.4,274.6 L181.9,275.1 L182.4,275.6 L182.9,276.1 L183.4,276.6 L183.9,277.1 L184.3,277.7 L184.8,278.2 L185.2,278.8 L185.6,279.4 L186.0,280.0 L186.3,280.6 L186.7,281.2 L187.0,281.8 L187.3,282.5 L187.5,283.1 L187.8,283.8 L188.0,284.4 L188.2,285.1 L188.3,285.8 L188.5,286.4 L188.6,287.1 L188.7,287.8 L188.7,288.4" fill="none" stroke="#8b92ba" stroke-width="2.2" stroke-linecap="round" opacity="0.92"/>
<path d="M156.7,286.7 L157.4,286.6 L158.1,286.6 L158.8,286.5 L159.5,286.4 L160.2,286.3 L160.9,286.1 L161.6,286.0 L162.3,285.8 L162.9,285.6 L163.6,285.3 L164.2,285.1 L164.9,284.8 L165.5,284.5 L166.1,284.2 L166.7,283.9 L167.3,283.6 L167.9,283.2 L168.5,282.8 L169.1,282.5 L169.7,282.1 L170.2,281.7 L170.8,281.3 L171.3,280.8 L171.9,280.4 L172.4,279.9 L172.9,279.5 L173.5,279.0 L174.0,278.6 L174.5,278.1 L175.0,277.6 L175.5,277.1 L176.0,276.6 L176.5,276.1 L177.0,275.6 L177.5,275.1 L177.9,274.6 L178.4,274.1 L178.9,273.6 L179.3,273.1" fill="none" stroke="#8b92ba" stroke-width="2.2" stroke-linecap="round" opacity="0.92"/>
<path d="M150.4,295.9 L151.2,295.9 L151.9,296.0 L152.7,296.1 L153.5,296.3 L154.2,296.5 L155.0,296.7 L155.7,296.9 L156.4,297.1 L157.2,297.4 L157.9,297.7 L158.6,298.0 L159.3,298.3 L160.0,298.7 L160.7,299.0 L161.3,299.4 L162.0,299.8 L162.6,300.3 L163.2,300.7 L163.8,301.2 L164.4,301.7 L165.0,302.2 L165.6,302.7 L166.1,303.2 L166.6,303.8 L167.1,304.4 L167.6,305.0 L168.1,305.6 L168.6,306.2 L169.0,306.8 L169.4,307.5 L169.8,308.2 L170.2,308.8 L170.5,309.5 L170.8,310.2 L171.1,310.9 L171.4,311.7 L171.7,312.4 L171.9,313.2 L172.1,313.9" fill="none" stroke="#8b92ba" stroke-width="2.2" stroke-linecap="round" opacity="0.92"/>
<path d="M135.0,306.7 L135.6,306.9 L136.3,307.2 L136.9,307.4 L137.6,307.6 L138.2,307.8 L138.9,307.9 L139.6,308.1 L140.3,308.2 L140.9,308.3 L141.6,308.4 L142.3,308.4 L143.0,308.5 L143.7,308.5 L144.4,308.5 L145.1,308.4 L145.8,308.4 L146.5,308.3 L147.1,308.2 L147.8,308.1 L148.5,307.9 L149.1,307.8 L149.8,307.6 L150.4,307.3 L151.0,307.1 L151.7,306.8 L152.3,306.5 L152.9,306.2 L153.4,305.8 L154.0,305.5 L154.5,305.1 L155.1,304.6 L155.6,304.2 L156.1,303.7 L156.5,303.2 L157.0,302.7 L157.4,302.1 L157.8,301.5 L158.1,300.9 L158.5,300.3" fill="none" stroke="#8b92ba" stroke-width="2.2" stroke-linecap="round" opacity="0.92"/>
<path d="M161.3,314.9 L162.9,315.1 L164.4,315.3 L165.9,315.5 L167.5,315.6 L169.1,315.6 L170.6,315.6 L172.2,315.6 L173.8,315.6 L175.3,315.5 L176.9,315.3 L178.5,315.1 L180.0,314.9 L181.6,314.7 L183.1,314.4 L184.6,314.0 L186.2,313.6 L187.7,313.2 L189.2,312.7 L190.7,312.2 L192.2,311.7 L193.6,311.1 L195.1,310.5 L196.5,309.8 L197.9,309.1 L199.3,308.4 L200.6,307.6 L202.0,306.8 L203.3,305.9 L204.6,305.0 L205.8,304.1 L207.1,303.1 L208.2,302.1 L209.4,301.1 L210.5,300.0 L211.6,298.9 L212.7,297.7 L213.7,296.5 L214.7,295.3 L215.6,294.0" fill="none" stroke="#8b92ba" stroke-width="2.2" stroke-linecap="round" opacity="0.92"/>
<ellipse cx="231" cy="253.2" rx="4.1" ry="10.1" transform="rotate(7 231 253.2)" fill="#871a2d"/>
<path d="M126.8,172.8 L128.7,170.8 L130.6,168.9 L132.5,167.1 L134.6,165.5 L136.7,163.9 L138.9,162.5 L141.1,161.1 L143.4,159.9 L148.1,157.6 L152.9,155.6 L157.9,153.9 L165.5,151.6 L173.2,149.8 L181.0,148.3 L188.9,147.2 L194.2,146.7 L202.1,146.3 L210.0,146.3 L215.3,146.5 L223.2,147.2 L228.4,148.0 L236.2,149.4 L241.3,150.6 L248.9,152.7 L253.9,154.3 L261.3,157.0 L266.2,159.1 L273.4,162.4 L280.3,166.2 L284.9,168.9 L291.5,173.2 L295.8,176.2 L302.1,181.1 L306.1,184.5 L311.9,189.9 L315.7,193.7 L308.8,191.2 L299.6,188.1 L285.7,183.5 L274.0,180.0 L262.2,176.8 L250.4,173.9 L240.9,172.0 L233.7,170.7 L228.9,169.9 L219.2,168.7 L209.5,167.9 L202.2,167.5 L197.3,167.4 L192.4,167.5 L185.1,167.7 L180.3,168.0 L173.0,168.6 L165.7,169.5 L148.8,171.8 L139.1,172.8 L134.3,173.1 L131.9,173.2 L129.4,173.2 L126.8,172.8Z" fill="url(#gtm)" stroke="#dd4f33" stroke-width="0.5"/>
<path d="M131.1,168.4 L134.0,166.6 L136.8,164.9 L139.7,163.3 L142.7,161.7 L145.7,160.3 L148.8,158.9 L151.8,157.7 L155.0,156.5 L158.1,155.4 L161.3,154.4 L164.5,153.5 L167.7,152.6 L171.0,151.9 L174.3,151.2 L177.5,150.5 L180.9,150.0 L184.2,149.5 L187.5,149.1 L190.8,148.8 L194.2,148.5 L197.5,148.3 L200.8,148.2 L204.2,148.2 L207.5,148.2 L210.9,148.3 L214.2,148.5 L217.6,148.7 L220.9,149.0 L224.2,149.4 L227.5,149.9 L230.8,150.4 L234.1,151.0 L237.4,151.7 L240.7,152.4 L243.9,153.2 L247.1,154.1 L250.3,155.0 L253.5,156.0 L256.7,157.1 L259.8,158.3 L262.9,159.5 L266.0,160.7 L269.1,162.1 L272.1,163.5 L275.1,164.9 L278.1,166.5 L281.0,168.0 L283.9,169.7 L286.8,171.4 L289.7,173.2 L292.5,175.0 L295.2,176.9 L298.0,178.8 L300.6,180.8 L303.3,182.8 L305.9,185.0 L308.4,187.1 L311.0,189.3 L313.4,191.6" fill="none" stroke="#f7875a" stroke-width="1.5" stroke-opacity="0.3"/>
<path d="M131.4,169.6 L134.4,168.1 L137.4,166.6 L140.4,165.2 L143.4,164.0 L146.5,162.7 L149.6,161.6 L152.7,160.5 L155.8,159.5 L159.0,158.5 L162.1,157.7 L165.3,156.9 L168.5,156.1 L171.7,155.5 L174.9,154.9 L178.1,154.3 L181.4,153.9 L184.6,153.5 L187.9,153.1 L191.1,152.9 L194.4,152.7 L197.7,152.5 L201.0,152.5 L204.2,152.5 L207.5,152.5 L210.8,152.7 L214.0,152.9 L217.3,153.1 L220.6,153.4 L223.8,153.8 L227.1,154.2 L230.3,154.7 L233.6,155.3 L236.8,155.9 L240.0,156.6 L243.2,157.4 L246.4,158.2 L249.5,159.0 L252.7,159.9 L255.8,160.9 L258.9,162.0 L262.0,163.0 L265.1,164.2 L268.2,165.4 L271.2,166.7 L274.2,168.0 L277.2,169.3 L280.2,170.8 L283.1,172.3 L286.0,173.8 L288.9,175.4 L291.7,177.0 L294.5,178.7 L297.3,180.4 L300.0,182.2 L302.7,184.1 L305.4,186.0 L308.0,187.9 L310.6,189.9 L313.2,191.9" fill="none" stroke="#f7875a" stroke-width="1.5" stroke-opacity="0.3"/>
<path d="M131.9,170.9 L134.9,169.6 L137.9,168.4 L141.0,167.3 L144.0,166.2 L147.1,165.1 L150.2,164.2 L153.3,163.3 L156.4,162.4 L159.6,161.6 L162.7,160.9 L165.9,160.3 L169.0,159.7 L172.2,159.1 L175.4,158.6 L178.6,158.2 L181.8,157.8 L185.0,157.5 L188.2,157.2 L191.4,157.0 L194.6,156.9 L197.8,156.8 L201.1,156.8 L204.3,156.8 L207.5,156.9 L210.7,157.0 L213.9,157.2 L217.1,157.5 L220.3,157.8 L223.5,158.2 L226.7,158.6 L229.9,159.1 L233.1,159.6 L236.2,160.2 L239.4,160.8 L242.6,161.5 L245.7,162.2 L248.8,163.0 L251.9,163.8 L255.0,164.7 L258.1,165.7 L261.2,166.7 L264.3,167.7 L267.3,168.8 L270.3,169.9 L273.3,171.1 L276.3,172.3 L279.3,173.6 L282.2,174.9 L285.2,176.3 L288.1,177.7 L290.9,179.1 L293.8,180.6 L296.6,182.1 L299.5,183.7 L302.2,185.3 L305.0,187.0 L307.7,188.7 L310.4,190.4 L313.1,192.2" fill="none" stroke="#f7875a" stroke-width="1.5" stroke-opacity="0.3"/>
<path d="M132.4,172.0 L135.4,171.0 L138.4,170.1 L141.5,169.3 L144.6,168.4 L147.6,167.6 L150.7,166.9 L153.8,166.2 L156.9,165.5 L160.1,164.9 L163.2,164.3 L166.3,163.8 L169.5,163.3 L172.6,162.9 L175.8,162.5 L178.9,162.2 L182.1,161.9 L185.2,161.6 L188.4,161.4 L191.6,161.2 L194.8,161.1 L197.9,161.1 L201.1,161.1 L204.3,161.1 L207.4,161.2 L210.6,161.3 L213.8,161.5 L216.9,161.8 L220.1,162.1 L223.2,162.4 L226.4,162.8 L229.5,163.2 L232.6,163.7 L235.8,164.3 L238.9,164.9 L242.0,165.5 L245.1,166.2 L248.2,166.9 L251.2,167.7 L254.3,168.5 L257.4,169.4 L260.4,170.3 L263.5,171.3 L266.5,172.2 L269.5,173.3 L272.5,174.3 L275.5,175.4 L278.5,176.5 L281.4,177.7 L284.4,178.9 L287.3,180.1 L290.2,181.4 L293.2,182.6 L296.0,183.9 L298.9,185.3 L301.8,186.6 L304.6,188.0 L307.4,189.4 L310.3,190.8 L313.0,192.3" fill="none" stroke="#f7875a" stroke-width="1.5" stroke-opacity="0.3"/>
<path d="M132.7,173.0 L135.7,172.4 L138.8,171.9 L141.9,171.3 L145.0,170.8 L148.1,170.2 L151.2,169.7 L154.3,169.2 L157.4,168.7 L160.5,168.2 L163.6,167.8 L166.7,167.4 L169.8,167.0 L172.9,166.6 L176.0,166.3 L179.1,166.0 L182.3,165.8 L185.4,165.6 L188.5,165.5 L191.7,165.3 L194.8,165.3 L197.9,165.3 L201.0,165.3 L204.2,165.4 L207.3,165.5 L210.4,165.6 L213.6,165.8 L216.7,166.1 L219.8,166.4 L222.9,166.7 L226.0,167.1 L229.1,167.5 L232.2,168.0 L235.3,168.5 L238.4,169.1 L241.4,169.7 L244.5,170.3 L247.6,171.0 L250.6,171.7 L253.7,172.4 L256.7,173.2 L259.7,174.0 L262.8,174.8 L265.8,175.7 L268.8,176.6 L271.8,177.5 L274.8,178.5 L277.8,179.4 L280.8,180.4 L283.7,181.5 L286.7,182.5 L289.7,183.5 L292.6,184.6 L295.5,185.7 L298.5,186.8 L301.4,187.9 L304.3,189.0 L307.2,190.2 L310.1,191.3 L313.0,192.5" fill="none" stroke="#f7875a" stroke-width="1.5" stroke-opacity="0.3"/>
<path d="M131.3,169.0 L134.2,167.4 L137.1,165.8 L140.1,164.3 L143.1,163.0 L146.2,161.7 L149.2,160.4 L152.3,159.3 L155.4,158.2 L158.6,157.2 L161.8,156.2 L164.9,155.4 L168.2,154.6 L171.4,153.8 L174.6,153.2 L177.9,152.6 L181.1,152.1 L184.4,151.7 L187.7,151.3 L191.0,151.0 L194.3,150.8 L197.6,150.6 L200.9,150.5 L204.2,150.5 L207.5,150.6 L210.8,150.7 L214.1,150.9 L217.4,151.1 L220.7,151.4 L224.0,151.8 L227.3,152.3 L230.6,152.8 L233.8,153.4 L237.1,154.0 L240.3,154.7 L243.5,155.5 L246.7,156.3 L249.9,157.2 L253.1,158.2 L256.2,159.2 L259.3,160.3 L262.4,161.4 L265.5,162.6 L268.6,163.9 L271.6,165.2 L274.6,166.6 L277.6,168.1 L280.5,169.5 L283.4,171.1 L286.3,172.7 L289.2,174.4 L292.0,176.1 L294.8,177.9 L297.6,179.7 L300.3,181.6 L303.0,183.5 L305.6,185.5 L308.2,187.5 L310.8,189.6 L313.3,191.8" fill="none" stroke="#d9482f" stroke-width="1.0" stroke-opacity="0.8"/>
<path d="M131.7,170.3 L134.7,168.9 L137.7,167.6 L140.7,166.3 L143.8,165.2 L146.9,164.0 L150.0,163.0 L153.1,162.0 L156.2,161.1 L159.3,160.2 L162.5,159.4 L165.6,158.7 L168.8,158.1 L172.0,157.5 L175.2,156.9 L178.4,156.4 L181.6,156.0 L184.8,155.7 L188.1,155.4 L191.3,155.2 L194.5,155.0 L197.8,154.9 L201.0,154.9 L204.3,154.9 L207.5,154.9 L210.7,155.1 L214.0,155.3 L217.2,155.5 L220.4,155.8 L223.7,156.2 L226.9,156.6 L230.1,157.1 L233.3,157.7 L236.5,158.3 L239.7,158.9 L242.8,159.6 L246.0,160.4 L249.1,161.2 L252.3,162.1 L255.4,163.0 L258.5,164.0 L261.6,165.0 L264.6,166.1 L267.7,167.2 L270.7,168.4 L273.7,169.7 L276.7,171.0 L279.7,172.3 L282.6,173.7 L285.5,175.1 L288.4,176.6 L291.3,178.1 L294.1,179.7 L296.9,181.4 L299.7,183.0 L302.5,184.8 L305.2,186.5 L307.9,188.3 L310.5,190.2 L313.1,192.1" fill="none" stroke="#d9482f" stroke-width="1.0" stroke-opacity="0.8"/>
<path d="M132.2,171.5 L135.2,170.4 L138.2,169.4 L141.3,168.4 L144.3,167.4 L147.4,166.5 L150.5,165.7 L153.6,164.9 L156.7,164.1 L159.9,163.4 L163.0,162.8 L166.1,162.2 L169.3,161.6 L172.5,161.2 L175.6,160.7 L178.8,160.4 L182.0,160.0 L185.1,159.7 L188.3,159.5 L191.5,159.4 L194.7,159.2 L197.9,159.2 L201.1,159.2 L204.3,159.2 L207.5,159.3 L210.7,159.4 L213.8,159.6 L217.0,159.9 L220.2,160.2 L223.4,160.5 L226.5,160.9 L229.7,161.4 L232.8,161.9 L236.0,162.4 L239.1,163.1 L242.2,163.7 L245.3,164.4 L248.5,165.2 L251.5,166.0 L254.6,166.8 L257.7,167.7 L260.8,168.7 L263.8,169.6 L266.8,170.7 L269.9,171.7 L272.9,172.8 L275.9,174.0 L278.8,175.2 L281.8,176.4 L284.7,177.7 L287.6,179.0 L290.6,180.3 L293.4,181.7 L296.3,183.1 L299.2,184.6 L302.0,186.0 L304.8,187.5 L307.6,189.1 L310.3,190.7 L313.1,192.3" fill="none" stroke="#d9482f" stroke-width="1.0" stroke-opacity="0.8"/>
<path d="M132.5,172.6 L135.6,171.8 L138.7,171.1 L141.7,170.4 L144.8,169.7 L147.9,169.1 L151.0,168.4 L154.1,167.8 L157.2,167.3 L160.3,166.7 L163.4,166.2 L166.5,165.8 L169.7,165.3 L172.8,164.9 L175.9,164.6 L179.1,164.3 L182.2,164.0 L185.3,163.8 L188.5,163.6 L191.6,163.5 L194.8,163.4 L197.9,163.4 L201.1,163.4 L204.2,163.5 L207.4,163.6 L210.5,163.7 L213.6,163.9 L216.8,164.1 L219.9,164.4 L223.0,164.8 L226.2,165.2 L229.3,165.6 L232.4,166.1 L235.5,166.6 L238.6,167.2 L241.7,167.8 L244.8,168.5 L247.8,169.2 L250.9,169.9 L253.9,170.7 L257.0,171.5 L260.0,172.3 L263.1,173.2 L266.1,174.1 L269.1,175.1 L272.1,176.1 L275.1,177.1 L278.1,178.1 L281.1,179.2 L284.0,180.3 L287.0,181.4 L289.9,182.5 L292.8,183.7 L295.8,184.9 L298.7,186.1 L301.6,187.3 L304.4,188.6 L307.3,189.8 L310.1,191.1 L313.0,192.4" fill="none" stroke="#d9482f" stroke-width="1.0" stroke-opacity="0.8"/>
<path d="M127.0,333.0 L134.1,334.7 L138.9,335.6 L143.7,336.4 L148.5,337.0 L153.3,337.6 L158.2,338.0 L165.5,338.4 L172.9,338.7 L180.2,338.9 L187.5,338.9 L194.9,338.8 L202.2,338.6 L207.1,338.3 L214.4,337.8 L219.2,337.3 L228.9,336.0 L238.5,334.4 L248.1,332.5 L260.0,329.7 L271.8,326.5 L283.5,323.1 L297.5,318.7 L316.0,312.5 L312.7,316.6 L309.0,320.5 L305.2,324.1 L303.2,325.9 L299.0,329.2 L294.7,332.3 L292.5,333.8 L288.0,336.6 L283.4,339.2 L276.3,342.9 L269.1,346.3 L261.7,349.3 L254.2,352.0 L249.1,353.6 L241.4,355.7 L233.6,357.4 L225.8,358.7 L220.5,359.4 L212.6,360.1 L204.6,360.4 L196.6,360.3 L191.3,360.0 L183.4,359.2 L178.1,358.4 L172.8,357.5 L170.2,356.9 L165.0,355.6 L159.9,354.1 L157.4,353.3 L152.4,351.3 L147.6,349.1 L143.0,346.6 L140.8,345.2 L138.6,343.7 L136.4,342.2 L134.4,340.5 L132.4,338.8 L130.5,336.9 L128.6,334.9 L127.0,333.0Z" fill="url(#gbm)" stroke="#dd4f33" stroke-width="0.5"/>
<path d="M132.4,334.9 L135.4,335.5 L138.5,336.2 L141.6,336.7 L144.7,337.3 L147.8,337.8 L150.9,338.3 L154.0,338.7 L157.1,339.1 L160.3,339.4 L163.4,339.8 L166.5,340.0 L169.6,340.3 L172.8,340.5 L175.9,340.6 L179.0,340.8 L182.2,340.9 L185.3,340.9 L188.5,340.9 L191.6,340.9 L194.7,340.9 L197.9,340.8 L201.0,340.6 L204.1,340.5 L207.3,340.3 L210.4,340.0 L213.5,339.8 L216.6,339.5 L219.8,339.1 L222.9,338.7 L226.0,338.3 L229.1,337.9 L232.2,337.4 L235.3,336.8 L238.4,336.3 L241.4,335.7 L244.5,335.1 L247.6,334.4 L250.6,333.7 L253.7,333.0 L256.7,332.3 L259.8,331.5 L262.8,330.7 L265.9,329.9 L268.9,329.0 L271.9,328.2 L274.9,327.2 L277.9,326.3 L280.9,325.4 L283.9,324.4 L286.9,323.4 L289.8,322.4 L292.8,321.3 L295.7,320.3 L298.7,319.2 L301.6,318.1 L304.5,316.9 L307.5,315.8 L310.4,314.6 L313.3,313.5" fill="none" stroke="#f7875a" stroke-width="1.5" stroke-opacity="0.3"/>
<path d="M132.0,335.6 L135.1,336.6 L138.1,337.5 L141.2,338.4 L144.3,339.2 L147.3,339.9 L150.4,340.6 L153.6,341.3 L156.7,341.9 L159.8,342.4 L162.9,342.9 L166.1,343.4 L169.2,343.8 L172.4,344.1 L175.6,344.4 L178.7,344.6 L181.9,344.8 L185.1,345.0 L188.3,345.1 L191.4,345.1 L194.6,345.1 L197.8,345.1 L201.0,345.0 L204.2,344.9 L207.4,344.7 L210.5,344.5 L213.7,344.2 L216.9,343.9 L220.0,343.6 L223.2,343.2 L226.4,342.7 L229.5,342.3 L232.6,341.8 L235.8,341.2 L238.9,340.6 L242.0,340.0 L245.1,339.3 L248.2,338.6 L251.3,337.8 L254.4,337.0 L257.5,336.2 L260.5,335.3 L263.6,334.4 L266.6,333.5 L269.6,332.5 L272.6,331.5 L275.6,330.4 L278.6,329.4 L281.6,328.2 L284.6,327.1 L287.5,325.9 L290.5,324.7 L293.4,323.5 L296.3,322.2 L299.2,320.9 L302.1,319.5 L305.0,318.2 L307.8,316.8 L310.7,315.4 L313.5,313.9" fill="none" stroke="#f7875a" stroke-width="1.5" stroke-opacity="0.3"/>
<path d="M131.7,336.2 L134.6,337.5 L137.6,338.8 L140.7,340.0 L143.7,341.1 L146.8,342.1 L149.9,343.1 L153.0,343.9 L156.1,344.7 L159.2,345.5 L162.4,346.1 L165.5,346.7 L168.7,347.3 L171.9,347.7 L175.1,348.2 L178.3,348.5 L181.6,348.8 L184.8,349.0 L188.0,349.2 L191.2,349.3 L194.5,349.4 L197.7,349.4 L200.9,349.4 L204.2,349.3 L207.4,349.1 L210.6,348.9 L213.9,348.7 L217.1,348.4 L220.3,348.0 L223.5,347.6 L226.7,347.2 L229.9,346.7 L233.1,346.1 L236.3,345.5 L239.5,344.9 L242.6,344.2 L245.8,343.5 L248.9,342.7 L252.0,341.9 L255.1,341.0 L258.2,340.1 L261.3,339.1 L264.4,338.1 L267.4,337.0 L270.5,336.0 L273.5,334.8 L276.5,333.6 L279.5,332.4 L282.5,331.1 L285.4,329.8 L288.4,328.4 L291.3,327.0 L294.2,325.6 L297.0,324.1 L299.9,322.6 L302.7,321.0 L305.5,319.4 L308.3,317.7 L311.0,316.0 L313.8,314.3" fill="none" stroke="#f7875a" stroke-width="1.5" stroke-opacity="0.3"/>
<path d="M131.4,336.7 L134.2,338.5 L137.1,340.1 L140.1,341.6 L143.0,343.0 L146.1,344.3 L149.1,345.5 L152.2,346.6 L155.3,347.6 L158.5,348.5 L161.7,349.4 L164.9,350.1 L168.1,350.8 L171.3,351.4 L174.6,351.9 L177.8,352.4 L181.1,352.8 L184.4,353.1 L187.7,353.3 L190.9,353.5 L194.2,353.6 L197.5,353.7 L200.8,353.7 L204.1,353.6 L207.4,353.5 L210.7,353.3 L214.0,353.1 L217.3,352.8 L220.5,352.4 L223.8,352.0 L227.1,351.5 L230.3,351.0 L233.6,350.5 L236.8,349.8 L240.0,349.1 L243.3,348.4 L246.5,347.6 L249.6,346.8 L252.8,345.9 L256.0,344.9 L259.1,343.9 L262.2,342.9 L265.3,341.8 L268.4,340.6 L271.4,339.4 L274.5,338.1 L277.5,336.8 L280.5,335.4 L283.4,334.0 L286.4,332.5 L289.3,330.9 L292.1,329.3 L295.0,327.7 L297.8,326.0 L300.6,324.2 L303.3,322.4 L306.1,320.5 L308.7,318.6 L311.4,316.7 L314.0,314.6" fill="none" stroke="#f7875a" stroke-width="1.5" stroke-opacity="0.3"/>
<path d="M131.1,337.3 L133.8,339.4 L136.6,341.3 L139.4,343.1 L142.3,344.8 L145.3,346.4 L148.3,347.9 L151.3,349.2 L154.5,350.4 L157.6,351.5 L160.8,352.5 L164.1,353.5 L167.3,354.3 L170.6,355.0 L173.9,355.6 L177.2,356.2 L180.6,356.7 L183.9,357.1 L187.3,357.4 L190.6,357.7 L193.9,357.9 L197.3,358.0 L200.7,358.0 L204.0,358.0 L207.4,357.9 L210.7,357.7 L214.1,357.5 L217.4,357.2 L220.8,356.8 L224.1,356.4 L227.4,355.9 L230.7,355.4 L234.1,354.8 L237.4,354.1 L240.6,353.4 L243.9,352.6 L247.2,351.8 L250.4,350.9 L253.6,349.9 L256.8,348.9 L260.0,347.8 L263.2,346.6 L266.3,345.4 L269.4,344.1 L272.5,342.8 L275.6,341.4 L278.6,339.9 L281.6,338.3 L284.5,336.8 L287.4,335.1 L290.3,333.4 L293.1,331.6 L295.9,329.7 L298.7,327.8 L301.4,325.8 L304.0,323.8 L306.7,321.7 L309.2,319.5 L311.8,317.3 L314.2,314.9" fill="none" stroke="#f7875a" stroke-width="1.5" stroke-opacity="0.3"/>
<path d="M132.2,335.3 L135.2,336.1 L138.3,336.9 L141.4,337.6 L144.5,338.3 L147.6,339.0 L150.7,339.6 L153.8,340.1 L156.9,340.6 L160.0,341.1 L163.2,341.5 L166.3,341.9 L169.5,342.2 L172.6,342.5 L175.7,342.7 L178.9,342.9 L182.1,343.1 L185.2,343.2 L188.4,343.2 L191.5,343.2 L194.7,343.2 L197.8,343.2 L201.0,343.1 L204.2,342.9 L207.3,342.7 L210.5,342.5 L213.6,342.2 L216.8,341.9 L219.9,341.6 L223.0,341.2 L226.2,340.7 L229.3,340.3 L232.4,339.8 L235.5,339.2 L238.6,338.7 L241.7,338.0 L244.8,337.4 L247.9,336.7 L251.0,336.0 L254.1,335.2 L257.1,334.4 L260.2,333.6 L263.2,332.8 L266.3,331.9 L269.3,330.9 L272.3,330.0 L275.3,329.0 L278.3,328.0 L281.3,327.0 L284.3,325.9 L287.2,324.8 L290.2,323.7 L293.1,322.5 L296.1,321.3 L299.0,320.1 L301.9,318.9 L304.8,317.6 L307.7,316.3 L310.5,315.0 L313.4,313.7" fill="none" stroke="#d9482f" stroke-width="1.0" stroke-opacity="0.8"/>
<path d="M131.8,336.0 L134.8,337.1 L137.9,338.2 L140.9,339.3 L144.0,340.2 L147.0,341.1 L150.1,342.0 L153.2,342.7 L156.4,343.4 L159.5,344.1 L162.7,344.7 L165.8,345.2 L169.0,345.7 L172.2,346.1 L175.3,346.5 L178.5,346.8 L181.7,347.0 L184.9,347.2 L188.1,347.4 L191.3,347.4 L194.6,347.5 L197.8,347.5 L201.0,347.4 L204.2,347.3 L207.4,347.1 L210.6,346.9 L213.8,346.7 L217.0,346.4 L220.2,346.0 L223.4,345.6 L226.5,345.2 L229.7,344.7 L232.9,344.2 L236.0,343.6 L239.2,343.0 L242.3,342.3 L245.5,341.6 L248.6,340.8 L251.7,340.0 L254.8,339.2 L257.9,338.3 L260.9,337.4 L264.0,336.4 L267.1,335.4 L270.1,334.4 L273.1,333.3 L276.1,332.2 L279.1,331.0 L282.1,329.8 L285.0,328.6 L288.0,327.3 L290.9,326.0 L293.8,324.6 L296.7,323.2 L299.6,321.8 L302.4,320.4 L305.3,318.8 L308.1,317.3 L310.9,315.7 L313.6,314.1" fill="none" stroke="#d9482f" stroke-width="1.0" stroke-opacity="0.8"/>
<path d="M131.5,336.5 L134.4,338.1 L137.4,339.5 L140.3,340.9 L143.4,342.1 L146.4,343.3 L149.5,344.4 L152.6,345.4 L155.7,346.3 L158.8,347.2 L162.0,347.9 L165.2,348.6 L168.4,349.2 L171.6,349.8 L174.8,350.2 L178.1,350.6 L181.3,351.0 L184.6,351.3 L187.8,351.5 L191.1,351.6 L194.3,351.7 L197.6,351.8 L200.9,351.7 L204.1,351.7 L207.4,351.5 L210.7,351.3 L213.9,351.1 L217.2,350.8 L220.4,350.4 L223.7,350.0 L226.9,349.6 L230.2,349.1 L233.4,348.5 L236.6,347.9 L239.8,347.2 L243.0,346.5 L246.1,345.7 L249.3,344.9 L252.5,344.1 L255.6,343.2 L258.7,342.2 L261.8,341.2 L264.9,340.1 L268.0,339.0 L271.0,337.8 L274.0,336.6 L277.0,335.4 L280.0,334.1 L283.0,332.7 L285.9,331.3 L288.8,329.8 L291.7,328.3 L294.6,326.8 L297.4,325.1 L300.3,323.5 L303.0,321.8 L305.8,320.0 L308.5,318.2 L311.2,316.4 L313.9,314.5" fill="none" stroke="#d9482f" stroke-width="1.0" stroke-opacity="0.8"/>
<path d="M131.2,337.0 L134.0,339.0 L136.8,340.8 L139.7,342.4 L142.6,344.0 L145.6,345.5 L148.7,346.8 L151.8,348.0 L154.9,349.2 L158.0,350.2 L161.2,351.1 L164.4,352.0 L167.7,352.7 L170.9,353.4 L174.2,354.0 L177.5,354.5 L180.8,354.9 L184.1,355.3 L187.4,355.6 L190.8,355.8 L194.1,356.0 L197.4,356.0 L200.7,356.1 L204.1,356.0 L207.4,355.9 L210.7,355.7 L214.0,355.5 L217.4,355.2 L220.7,354.9 L224.0,354.4 L227.3,354.0 L230.6,353.4 L233.8,352.8 L237.1,352.2 L240.4,351.5 L243.6,350.7 L246.9,349.9 L250.1,349.0 L253.3,348.1 L256.4,347.1 L259.6,346.0 L262.7,344.9 L265.9,343.8 L269.0,342.5 L272.0,341.2 L275.1,339.9 L278.1,338.5 L281.1,337.0 L284.0,335.5 L286.9,333.9 L289.8,332.3 L292.7,330.6 L295.5,328.8 L298.3,327.0 L301.0,325.1 L303.7,323.2 L306.4,321.2 L309.0,319.1 L311.6,317.0 L314.1,314.8" fill="none" stroke="#d9482f" stroke-width="1.0" stroke-opacity="0.8"/></g>
<path d="M497.2,237.2 C508,237.6 520.5,232.5 526.4,213" fill="none" stroke="#f29a2e" stroke-width="3.2" stroke-linecap="round"/>
<path d="M523.6,213.8 L528.3,207.2 L531.4,214.6 Z" fill="#f29a2e" stroke="#f29a2e" stroke-width="1.6" stroke-linejoin="round"/>
<path d="M497.2,237.2 C508,237.6 520.5,232.5 526.4,213" fill="none" stroke="#fbc357" stroke-width="1.7" stroke-linecap="round"/>
<path d="M524.3,213.6 L528.3,208 L530.8,214.2 Z" fill="#fbc357" stroke="#fbc357" stroke-width="0.6" stroke-linejoin="round"/>
<line x1="76.7" y1="167.3" x2="111.8" y2="228" stroke="#1e4a5c" stroke-width="1.7" stroke-linecap="round"/>
<line x1="81.6" y1="337.8" x2="104.4" y2="300" stroke="#1e4a5c" stroke-width="1.7" stroke-linecap="round"/>
<line x1="295" y1="140" x2="234.2" y2="224.4" stroke="#1e4a5c" stroke-width="1.7" stroke-linecap="round"/>
<line x1="295" y1="160.8" x2="232.4" y2="248" stroke="#1e4a5c" stroke-width="1.7" stroke-linecap="round"/>
<line x1="409.8" y1="166.7" x2="444.6" y2="227" stroke="#1e4a5c" stroke-width="1.7" stroke-linecap="round"/>
<line x1="414.5" y1="337.6" x2="437.3" y2="300" stroke="#1e4a5c" stroke-width="1.7" stroke-linecap="round"/>
<line x1="567.1" y1="114.4" x2="504.4" y2="202" stroke="#1e4a5c" stroke-width="1.7" stroke-linecap="round"/>
<line x1="584.4" y1="143.3" x2="530.5" y2="217.8" stroke="#1e4a5c" stroke-width="1.7" stroke-linecap="round"/>
<line x1="608.6" y1="239.6" x2="572.4" y2="245" stroke="#1e4a5c" stroke-width="1.7" stroke-linecap="round"/>
<text x="63.3" y="158.9" xml:space="preserve" font-size="12.6" fill="#367d91" stroke="#367d91" stroke-width="0.35" stroke-linejoin="round" textLength="27.8" lengthAdjust="spacingAndGlyphs"><tspan font-size="12.60">L</tspan><tspan font-size="13.54">ens</tspan></text>
<text x="61.6" y="351.8" xml:space="preserve" font-size="12.6" fill="#367d91" stroke="#367d91" stroke-width="0.35" stroke-linejoin="round" textLength="40.6" lengthAdjust="spacingAndGlyphs"><tspan font-size="12.60">C</tspan><tspan font-size="13.54">ornea</tspan></text>
<text x="299.2" y="143.5" xml:space="preserve" font-size="12.6" fill="#367d91" stroke="#367d91" stroke-width="0.35" stroke-linejoin="round" textLength="38.8" lengthAdjust="spacingAndGlyphs"><tspan font-size="12.60">R</tspan><tspan font-size="13.54">etina</tspan></text>
<text x="299.2" y="163.4" xml:space="preserve" font-size="12.6" fill="#367d91" stroke="#367d91" stroke-width="0.35" stroke-linejoin="round" textLength="33" lengthAdjust="spacingAndGlyphs"><tspan font-size="12.60">F</tspan><tspan font-size="13.54">ovea</tspan></text>
<text x="396.7" y="158.6" xml:space="preserve" font-size="12.6" fill="#367d91" stroke="#367d91" stroke-width="0.35" stroke-linejoin="round" textLength="27.6" lengthAdjust="spacingAndGlyphs"><tspan font-size="12.60">L</tspan><tspan font-size="13.54">ens</tspan></text>
<text x="394.3" y="351.8" xml:space="preserve" font-size="12.6" fill="#367d91" stroke="#367d91" stroke-width="0.35" stroke-linejoin="round" textLength="40.6" lengthAdjust="spacingAndGlyphs"><tspan font-size="12.60">C</tspan><tspan font-size="13.54">ornea</tspan></text>
<text x="612.9" y="243.4" xml:space="preserve" font-size="12.6" fill="#367d91" stroke="#367d91" stroke-width="0.35" stroke-linejoin="round" textLength="38.5" lengthAdjust="spacingAndGlyphs"><tspan font-size="12.60">R</tspan><tspan font-size="13.54">etina</tspan></text>
<text x="572.9" y="118.3" xml:space="preserve" font-size="12.6" fill="#d94e33" stroke="#d94e33" stroke-width="0.35" stroke-linejoin="round" textLength="98.2" lengthAdjust="spacingAndGlyphs"><tspan font-size="12.60">D</tspan><tspan font-size="13.54">etached </tspan><tspan font-size="12.60">R</tspan><tspan font-size="13.54">etina</tspan></text>
<text x="589.3" y="146.7" xml:space="preserve" font-size="12.6" fill="#d94e33" stroke="#d94e33" stroke-width="0.35" stroke-linejoin="round" textLength="72.5" lengthAdjust="spacingAndGlyphs"><tspan font-size="12.60">R</tspan><tspan font-size="13.54">etinal </tspan><tspan font-size="12.60">T</tspan><tspan font-size="13.54">ear</tspan></text>
<text x="143.7" y="400.7" xml:space="preserve" font-size="16.8" fill="#35a74c" stroke="#35a74c" stroke-width="0.6" stroke-linejoin="round" textLength="100.3" lengthAdjust="spacingAndGlyphs"><tspan font-size="16.80">H</tspan><tspan font-size="18.06">ealthy </tspan><tspan font-size="16.80">E</tspan><tspan font-size="18.06">ye</tspan></text>
<text x="458.3" y="400.9" xml:space="preserve" font-size="16.8" fill="#d94e33" stroke="#d94e33" stroke-width="0.6" stroke-linejoin="round" textLength="173.4" lengthAdjust="spacingAndGlyphs"><tspan font-size="16.80">R</tspan><tspan font-size="18.06">etinal </tspan><tspan font-size="16.80">D</tspan><tspan font-size="18.06">etachment</tspan></text>
</g></svg>
</body></html>
